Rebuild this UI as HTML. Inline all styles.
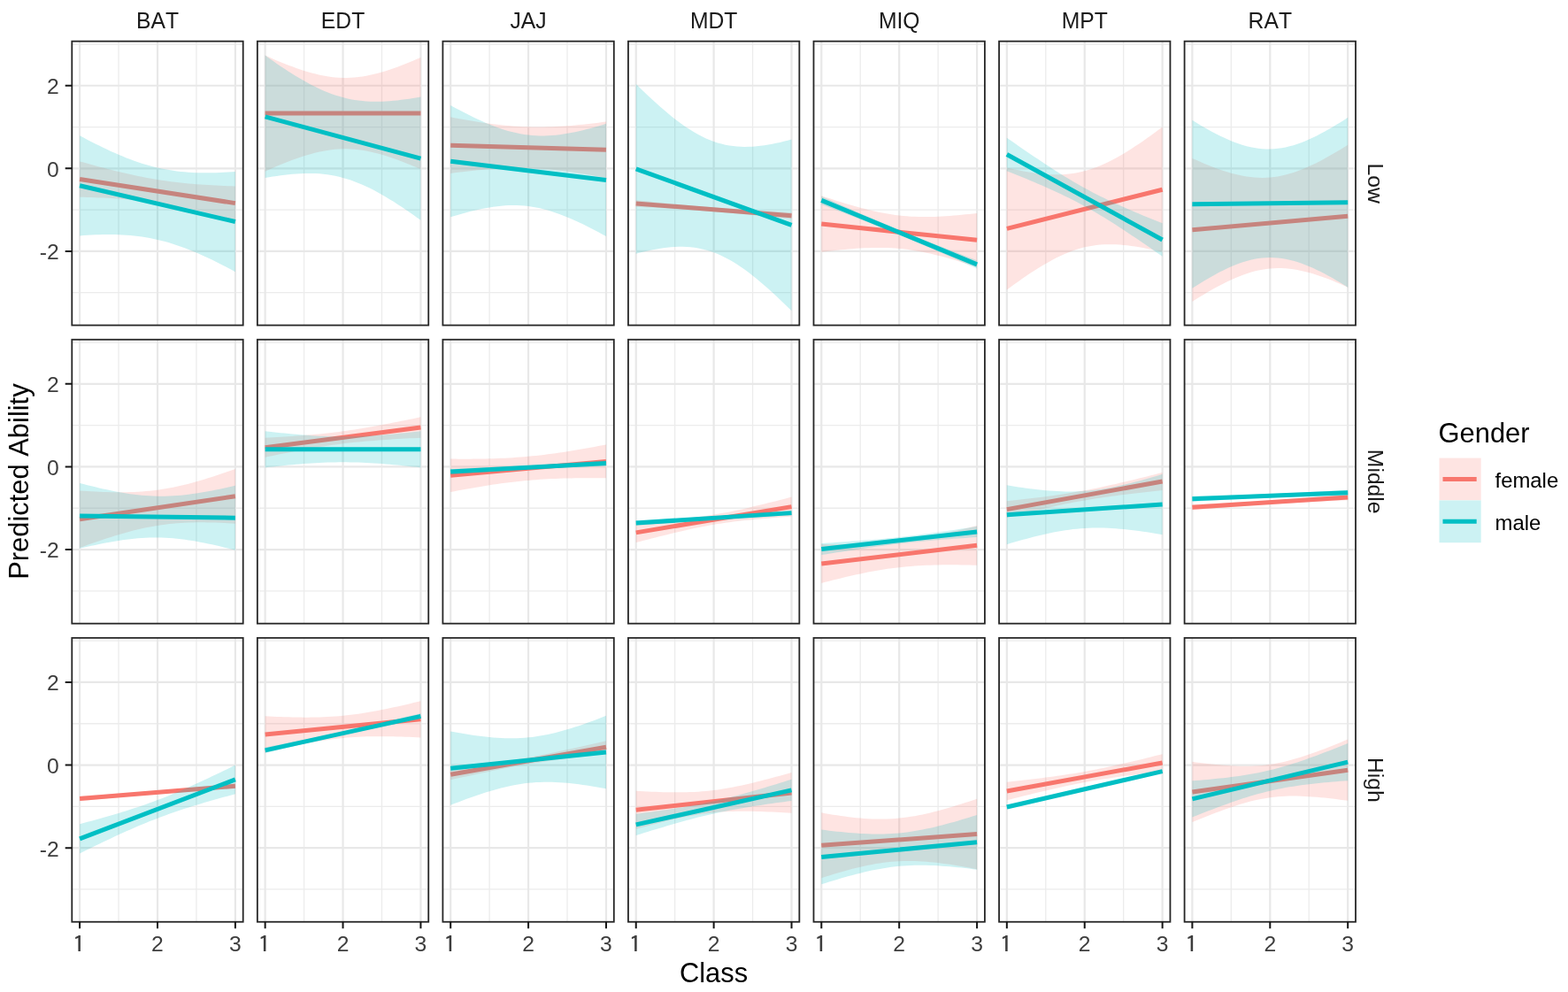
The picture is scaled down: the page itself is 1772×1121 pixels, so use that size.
<!DOCTYPE html>
<html><head><meta charset="utf-8"><title>Predicted Ability by Class</title><style>html,body{margin:0;padding:0;background:#fff;}svg{display:block;}</style></head><body>
<svg width="1772" height="1121" viewBox="0 0 1772 1121">
<rect width="1772" height="1121" fill="#fff"/>
<defs>
<clipPath id="c00"><rect x="81.3" y="46.65" width="193.4" height="320.9"/></clipPath>
<clipPath id="c01"><rect x="290.85" y="46.65" width="193.4" height="320.9"/></clipPath>
<clipPath id="c02"><rect x="500.4" y="46.65" width="193.4" height="320.9"/></clipPath>
<clipPath id="c03"><rect x="709.95" y="46.65" width="193.4" height="320.9"/></clipPath>
<clipPath id="c04"><rect x="919.5" y="46.65" width="193.4" height="320.9"/></clipPath>
<clipPath id="c05"><rect x="1129.05" y="46.65" width="193.4" height="320.9"/></clipPath>
<clipPath id="c06"><rect x="1338.6" y="46.65" width="193.4" height="320.9"/></clipPath>
<clipPath id="c10"><rect x="81.3" y="383.75" width="193.4" height="320.9"/></clipPath>
<clipPath id="c11"><rect x="290.85" y="383.75" width="193.4" height="320.9"/></clipPath>
<clipPath id="c12"><rect x="500.4" y="383.75" width="193.4" height="320.9"/></clipPath>
<clipPath id="c13"><rect x="709.95" y="383.75" width="193.4" height="320.9"/></clipPath>
<clipPath id="c14"><rect x="919.5" y="383.75" width="193.4" height="320.9"/></clipPath>
<clipPath id="c15"><rect x="1129.05" y="383.75" width="193.4" height="320.9"/></clipPath>
<clipPath id="c16"><rect x="1338.6" y="383.75" width="193.4" height="320.9"/></clipPath>
<clipPath id="c20"><rect x="81.3" y="720.85" width="193.4" height="320.9"/></clipPath>
<clipPath id="c21"><rect x="290.85" y="720.85" width="193.4" height="320.9"/></clipPath>
<clipPath id="c22"><rect x="500.4" y="720.85" width="193.4" height="320.9"/></clipPath>
<clipPath id="c23"><rect x="709.95" y="720.85" width="193.4" height="320.9"/></clipPath>
<clipPath id="c24"><rect x="919.5" y="720.85" width="193.4" height="320.9"/></clipPath>
<clipPath id="c25"><rect x="1129.05" y="720.85" width="193.4" height="320.9"/></clipPath>
<clipPath id="c26"><rect x="1338.6" y="720.85" width="193.4" height="320.9"/></clipPath>
</defs>
<g clip-path="url(#c00)">
<line x1="81.3" x2="274.7" y1="330.72" y2="330.72" stroke="#ECECEC" stroke-width="1.3"/>
<line x1="81.3" x2="274.7" y1="237.14" y2="237.14" stroke="#ECECEC" stroke-width="1.3"/>
<line x1="81.3" x2="274.7" y1="143.56" y2="143.56" stroke="#ECECEC" stroke-width="1.3"/>
<line x1="81.3" x2="274.7" y1="49.98" y2="49.98" stroke="#ECECEC" stroke-width="1.3"/>
<line x1="134.04" x2="134.04" y1="46.65" y2="367.55" stroke="#ECECEC" stroke-width="1.3"/>
<line x1="221.94" x2="221.94" y1="46.65" y2="367.55" stroke="#ECECEC" stroke-width="1.3"/>
<line x1="81.3" x2="274.7" y1="283.93" y2="283.93" stroke="#E8E8E8" stroke-width="2.2"/>
<line x1="81.3" x2="274.7" y1="190.35" y2="190.35" stroke="#E8E8E8" stroke-width="2.2"/>
<line x1="81.3" x2="274.7" y1="96.77" y2="96.77" stroke="#E8E8E8" stroke-width="2.2"/>
<line x1="90.09" x2="90.09" y1="46.65" y2="367.55" stroke="#E8E8E8" stroke-width="2.2"/>
<line x1="177.99" x2="177.99" y1="46.65" y2="367.55" stroke="#E8E8E8" stroke-width="2.2"/>
<line x1="265.89" x2="265.89" y1="46.65" y2="367.55" stroke="#E8E8E8" stroke-width="2.2"/>
<path d="M90.09 182.4 L94.48 183.62 L98.88 184.84 L103.27 186.05 L107.67 187.23 L112.06 188.41 L116.46 189.56 L120.86 190.7 L125.25 191.82 L129.64 192.91 L134.04 193.99 L138.44 195.03 L142.83 196.05 L147.22 197.04 L151.62 198 L156.01 198.92 L160.41 199.81 L164.81 200.66 L169.2 201.48 L173.59 202.25 L177.99 202.98 L182.38 203.68 L186.78 204.33 L191.18 204.94 L195.57 205.51 L199.97 206.04 L204.36 206.54 L208.76 206.99 L213.15 207.42 L217.55 207.81 L221.94 208.17 L226.33 208.5 L230.73 208.8 L235.12 209.08 L239.52 209.33 L243.92 209.57 L248.31 209.78 L252.71 209.98 L257.1 210.16 L261.5 210.32 L265.89 210.47 L265.89 248.84 L261.5 247.63 L257.1 246.44 L252.71 245.26 L248.31 244.1 L243.92 242.95 L239.52 241.83 L235.12 240.73 L230.73 239.65 L226.33 238.6 L221.94 237.57 L217.55 236.57 L213.15 235.61 L208.76 234.67 L204.36 233.77 L199.97 232.91 L195.57 232.09 L191.18 231.3 L186.78 230.55 L182.38 229.85 L177.99 229.19 L173.59 228.56 L169.2 227.98 L164.81 227.44 L160.41 226.93 L156.01 226.46 L151.62 226.03 L147.22 225.63 L142.83 225.26 L138.44 224.93 L134.04 224.61 L129.64 224.33 L125.25 224.07 L120.86 223.83 L116.46 223.61 L112.06 223.41 L107.67 223.22 L103.27 223.06 L98.88 222.9 L94.48 222.76 L90.09 222.64Z" fill="#F8766D" fill-opacity="0.2"/>
<line x1="90.09" y1="202.52" x2="265.89" y2="229.65" stroke="#F8766D" stroke-width="5.0"/>
<path d="M90.09 153.2 L94.48 155.57 L98.88 157.89 L103.27 160.18 L107.67 162.43 L112.06 164.62 L116.46 166.77 L120.86 168.86 L125.25 170.9 L129.64 172.87 L134.04 174.78 L138.44 176.62 L142.83 178.38 L147.22 180.07 L151.62 181.68 L156.01 183.2 L160.41 184.64 L164.81 185.98 L169.2 187.24 L173.59 188.4 L177.99 189.46 L182.38 190.43 L186.78 191.31 L191.18 192.09 L195.57 192.78 L199.97 193.38 L204.36 193.89 L208.76 194.32 L213.15 194.67 L217.55 194.94 L221.94 195.13 L226.33 195.26 L230.73 195.32 L235.12 195.32 L239.52 195.27 L243.92 195.15 L248.31 194.99 L252.71 194.78 L257.1 194.53 L261.5 194.24 L265.89 193.91 L265.89 307.14 L261.5 304.77 L257.1 302.44 L252.71 300.15 L248.31 297.91 L243.92 295.71 L239.52 293.57 L235.12 291.47 L230.73 289.44 L226.33 287.47 L221.94 285.56 L217.55 283.72 L213.15 281.95 L208.76 280.27 L204.36 278.66 L199.97 277.14 L195.57 275.7 L191.18 274.35 L186.78 273.1 L182.38 271.94 L177.99 270.88 L173.59 269.91 L169.2 269.03 L164.81 268.25 L160.41 267.56 L156.01 266.96 L151.62 266.45 L147.22 266.02 L142.83 265.67 L138.44 265.4 L134.04 265.2 L129.64 265.08 L125.25 265.01 L120.86 265.01 L116.46 265.07 L112.06 265.18 L107.67 265.34 L103.27 265.55 L98.88 265.81 L94.48 266.1 L90.09 266.43Z" fill="#00BFC4" fill-opacity="0.2"/>
<line x1="90.09" y1="209.81" x2="265.89" y2="250.52" stroke="#00BFC4" stroke-width="5.0"/>
</g>
<rect x="81.3" y="46.65" width="193.4" height="320.9" fill="none" stroke="#262626" stroke-width="1.8"/>
<g clip-path="url(#c01)">
<line x1="290.85" x2="484.25" y1="330.72" y2="330.72" stroke="#ECECEC" stroke-width="1.3"/>
<line x1="290.85" x2="484.25" y1="237.14" y2="237.14" stroke="#ECECEC" stroke-width="1.3"/>
<line x1="290.85" x2="484.25" y1="143.56" y2="143.56" stroke="#ECECEC" stroke-width="1.3"/>
<line x1="290.85" x2="484.25" y1="49.98" y2="49.98" stroke="#ECECEC" stroke-width="1.3"/>
<line x1="343.59" x2="343.59" y1="46.65" y2="367.55" stroke="#ECECEC" stroke-width="1.3"/>
<line x1="431.49" x2="431.49" y1="46.65" y2="367.55" stroke="#ECECEC" stroke-width="1.3"/>
<line x1="290.85" x2="484.25" y1="283.93" y2="283.93" stroke="#E8E8E8" stroke-width="2.2"/>
<line x1="290.85" x2="484.25" y1="190.35" y2="190.35" stroke="#E8E8E8" stroke-width="2.2"/>
<line x1="290.85" x2="484.25" y1="96.77" y2="96.77" stroke="#E8E8E8" stroke-width="2.2"/>
<line x1="299.64" x2="299.64" y1="46.65" y2="367.55" stroke="#E8E8E8" stroke-width="2.2"/>
<line x1="387.54" x2="387.54" y1="46.65" y2="367.55" stroke="#E8E8E8" stroke-width="2.2"/>
<line x1="475.44" x2="475.44" y1="46.65" y2="367.55" stroke="#E8E8E8" stroke-width="2.2"/>
<path d="M299.64 62.61 L304.04 64.58 L308.43 66.5 L312.82 68.38 L317.22 70.21 L321.62 71.99 L326.01 73.71 L330.41 75.37 L334.8 76.96 L339.2 78.47 L343.59 79.9 L347.99 81.24 L352.38 82.48 L356.78 83.61 L361.17 84.63 L365.57 85.52 L369.96 86.28 L374.36 86.91 L378.75 87.38 L383.14 87.71 L387.54 87.88 L391.94 87.9 L396.33 87.75 L400.73 87.46 L405.12 87.01 L409.52 86.42 L413.91 85.68 L418.31 84.81 L422.7 83.82 L427.1 82.71 L431.49 81.49 L435.88 80.17 L440.28 78.76 L444.68 77.26 L449.07 75.69 L453.47 74.04 L457.86 72.33 L462.26 70.56 L466.65 68.74 L471.05 66.87 L475.44 64.95 L475.44 191.29 L471.05 189.37 L466.65 187.5 L462.26 185.68 L457.86 183.91 L453.47 182.2 L449.07 180.55 L444.68 178.98 L440.28 177.48 L435.88 176.07 L431.49 174.75 L427.1 173.53 L422.7 172.42 L418.31 171.43 L413.91 170.56 L409.52 169.82 L405.12 169.23 L400.73 168.78 L396.33 168.48 L391.94 168.34 L387.54 168.36 L383.14 168.53 L378.75 168.86 L374.36 169.33 L369.96 169.95 L365.57 170.72 L361.17 171.61 L356.78 172.62 L352.38 173.76 L347.99 175 L343.59 176.34 L339.2 177.76 L334.8 179.28 L330.41 180.87 L326.01 182.53 L321.62 184.25 L317.22 186.03 L312.82 187.86 L308.43 189.74 L304.04 191.66 L299.64 193.63Z" fill="#F8766D" fill-opacity="0.2"/>
<line x1="299.64" y1="128.12" x2="475.44" y2="128.12" stroke="#F8766D" stroke-width="5.0"/>
<path d="M299.64 62.61 L304.04 65.76 L308.43 68.86 L312.82 71.91 L317.22 74.9 L321.62 77.83 L326.01 80.7 L330.41 83.49 L334.8 86.21 L339.2 88.84 L343.59 91.37 L347.99 93.81 L352.38 96.14 L356.78 98.36 L361.17 100.45 L365.57 102.42 L369.96 104.25 L374.36 105.93 L378.75 107.47 L383.14 108.87 L387.54 110.11 L391.94 111.19 L396.33 112.13 L400.73 112.92 L405.12 113.56 L409.52 114.06 L413.91 114.43 L418.31 114.67 L422.7 114.79 L427.1 114.79 L431.49 114.69 L435.88 114.5 L440.28 114.21 L444.68 113.84 L449.07 113.39 L453.47 112.87 L457.86 112.29 L462.26 111.64 L466.65 110.94 L471.05 110.2 L475.44 109.4 L475.44 248.84 L471.05 245.68 L466.65 242.57 L462.26 239.51 L457.86 236.5 L453.47 233.56 L449.07 230.67 L444.68 227.86 L440.28 225.13 L435.88 222.48 L431.49 219.92 L427.1 217.46 L422.7 215.1 L418.31 212.86 L413.91 210.73 L409.52 208.74 L405.12 206.88 L400.73 205.16 L396.33 203.58 L391.94 202.15 L387.54 200.88 L383.14 199.75 L378.75 198.78 L374.36 197.96 L369.96 197.29 L365.57 196.75 L361.17 196.35 L356.78 196.08 L352.38 195.94 L347.99 195.91 L343.59 195.98 L339.2 196.16 L334.8 196.42 L330.41 196.77 L326.01 197.2 L321.62 197.71 L317.22 198.28 L312.82 198.91 L308.43 199.59 L304.04 200.33 L299.64 201.11Z" fill="#00BFC4" fill-opacity="0.2"/>
<line x1="299.64" y1="131.86" x2="475.44" y2="179.12" stroke="#00BFC4" stroke-width="5.0"/>
</g>
<rect x="290.85" y="46.65" width="193.4" height="320.9" fill="none" stroke="#262626" stroke-width="1.8"/>
<g clip-path="url(#c02)">
<line x1="500.4" x2="693.8" y1="330.72" y2="330.72" stroke="#ECECEC" stroke-width="1.3"/>
<line x1="500.4" x2="693.8" y1="237.14" y2="237.14" stroke="#ECECEC" stroke-width="1.3"/>
<line x1="500.4" x2="693.8" y1="143.56" y2="143.56" stroke="#ECECEC" stroke-width="1.3"/>
<line x1="500.4" x2="693.8" y1="49.98" y2="49.98" stroke="#ECECEC" stroke-width="1.3"/>
<line x1="553.14" x2="553.14" y1="46.65" y2="367.55" stroke="#ECECEC" stroke-width="1.3"/>
<line x1="641.04" x2="641.04" y1="46.65" y2="367.55" stroke="#ECECEC" stroke-width="1.3"/>
<line x1="500.4" x2="693.8" y1="283.93" y2="283.93" stroke="#E8E8E8" stroke-width="2.2"/>
<line x1="500.4" x2="693.8" y1="190.35" y2="190.35" stroke="#E8E8E8" stroke-width="2.2"/>
<line x1="500.4" x2="693.8" y1="96.77" y2="96.77" stroke="#E8E8E8" stroke-width="2.2"/>
<line x1="509.19" x2="509.19" y1="46.65" y2="367.55" stroke="#E8E8E8" stroke-width="2.2"/>
<line x1="597.09" x2="597.09" y1="46.65" y2="367.55" stroke="#E8E8E8" stroke-width="2.2"/>
<line x1="684.99" x2="684.99" y1="46.65" y2="367.55" stroke="#E8E8E8" stroke-width="2.2"/>
<path d="M509.19 132.33 L513.59 133.18 L517.98 134.01 L522.38 134.81 L526.77 135.59 L531.17 136.35 L535.56 137.08 L539.96 137.78 L544.35 138.44 L548.75 139.08 L553.14 139.67 L557.54 140.24 L561.93 140.76 L566.33 141.24 L570.72 141.68 L575.12 142.07 L579.51 142.42 L583.91 142.72 L588.3 142.97 L592.7 143.17 L597.09 143.33 L601.49 143.43 L605.88 143.48 L610.28 143.49 L614.67 143.45 L619.07 143.36 L623.46 143.22 L627.86 143.04 L632.25 142.82 L636.65 142.55 L641.04 142.25 L645.44 141.91 L649.83 141.53 L654.23 141.12 L658.62 140.68 L663.02 140.21 L667.41 139.71 L671.81 139.19 L676.2 138.64 L680.6 138.07 L684.99 137.48 L684.99 201.11 L680.6 200.26 L676.2 199.43 L671.81 198.63 L667.41 197.85 L663.02 197.09 L658.62 196.36 L654.23 195.67 L649.83 195 L645.44 194.37 L641.04 193.77 L636.65 193.21 L632.25 192.68 L627.86 192.2 L623.46 191.77 L619.07 191.37 L614.67 191.02 L610.28 190.72 L605.88 190.47 L601.49 190.27 L597.09 190.12 L592.7 190.01 L588.3 189.96 L583.91 189.95 L579.51 190 L575.12 190.09 L570.72 190.22 L566.33 190.4 L561.93 190.63 L557.54 190.89 L553.14 191.19 L548.75 191.54 L544.35 191.91 L539.96 192.32 L535.56 192.76 L531.17 193.23 L526.77 193.73 L522.38 194.25 L517.98 194.8 L513.59 195.37 L509.19 195.96Z" fill="#F8766D" fill-opacity="0.2"/>
<line x1="509.19" y1="164.15" x2="684.99" y2="169.29" stroke="#F8766D" stroke-width="5.0"/>
<path d="M509.19 119 L513.59 121.4 L517.98 123.75 L522.38 126.07 L526.77 128.33 L531.17 130.53 L535.56 132.68 L539.96 134.76 L544.35 136.77 L548.75 138.69 L553.14 140.53 L557.54 142.28 L561.93 143.92 L566.33 145.46 L570.72 146.88 L575.12 148.17 L579.51 149.33 L583.91 150.36 L588.3 151.24 L592.7 151.98 L597.09 152.57 L601.49 153.01 L605.88 153.3 L610.28 153.44 L614.67 153.45 L619.07 153.32 L623.46 153.06 L627.86 152.67 L632.25 152.17 L636.65 151.57 L641.04 150.86 L645.44 150.06 L649.83 149.18 L654.23 148.22 L658.62 147.19 L663.02 146.09 L667.41 144.94 L671.81 143.73 L676.2 142.47 L680.6 141.16 L684.99 139.82 L684.99 267.09 L680.6 264.68 L676.2 262.31 L671.81 259.98 L667.41 257.71 L663.02 255.49 L658.62 253.33 L654.23 251.23 L649.83 249.21 L645.44 247.26 L641.04 245.4 L636.65 243.63 L632.25 241.95 L627.86 240.39 L623.46 238.94 L619.07 237.62 L614.67 236.42 L610.28 235.36 L605.88 234.44 L601.49 233.67 L597.09 233.05 L592.7 232.57 L588.3 232.24 L583.91 232.06 L579.51 232.02 L575.12 232.12 L570.72 232.35 L566.33 232.7 L561.93 233.17 L557.54 233.75 L553.14 234.44 L548.75 235.21 L544.35 236.07 L539.96 237.02 L535.56 238.03 L531.17 239.11 L526.77 240.25 L522.38 241.45 L517.98 242.7 L513.59 243.99 L509.19 245.33Z" fill="#00BFC4" fill-opacity="0.2"/>
<line x1="509.19" y1="182.16" x2="684.99" y2="203.45" stroke="#00BFC4" stroke-width="5.0"/>
</g>
<rect x="500.4" y="46.65" width="193.4" height="320.9" fill="none" stroke="#262626" stroke-width="1.8"/>
<g clip-path="url(#c03)">
<line x1="709.95" x2="903.35" y1="330.72" y2="330.72" stroke="#ECECEC" stroke-width="1.3"/>
<line x1="709.95" x2="903.35" y1="237.14" y2="237.14" stroke="#ECECEC" stroke-width="1.3"/>
<line x1="709.95" x2="903.35" y1="143.56" y2="143.56" stroke="#ECECEC" stroke-width="1.3"/>
<line x1="709.95" x2="903.35" y1="49.98" y2="49.98" stroke="#ECECEC" stroke-width="1.3"/>
<line x1="762.69" x2="762.69" y1="46.65" y2="367.55" stroke="#ECECEC" stroke-width="1.3"/>
<line x1="850.59" x2="850.59" y1="46.65" y2="367.55" stroke="#ECECEC" stroke-width="1.3"/>
<line x1="709.95" x2="903.35" y1="283.93" y2="283.93" stroke="#E8E8E8" stroke-width="2.2"/>
<line x1="709.95" x2="903.35" y1="190.35" y2="190.35" stroke="#E8E8E8" stroke-width="2.2"/>
<line x1="709.95" x2="903.35" y1="96.77" y2="96.77" stroke="#E8E8E8" stroke-width="2.2"/>
<line x1="718.74" x2="718.74" y1="46.65" y2="367.55" stroke="#E8E8E8" stroke-width="2.2"/>
<line x1="806.64" x2="806.64" y1="46.65" y2="367.55" stroke="#E8E8E8" stroke-width="2.2"/>
<line x1="894.54" x2="894.54" y1="46.65" y2="367.55" stroke="#E8E8E8" stroke-width="2.2"/>
<path d="M718.74 226.19 L723.13 226.65 L727.53 227.1 L731.93 227.55 L736.32 228 L740.72 228.45 L745.11 228.89 L749.51 229.33 L753.9 229.76 L758.3 230.19 L762.69 230.62 L767.09 231.03 L771.48 231.45 L775.88 231.85 L780.27 232.25 L784.67 232.64 L789.06 233.03 L793.46 233.4 L797.85 233.77 L802.25 234.12 L806.64 234.47 L811.04 234.81 L815.43 235.14 L819.83 235.46 L824.22 235.78 L828.62 236.08 L833.01 236.38 L837.41 236.67 L841.8 236.95 L846.2 237.22 L850.59 237.49 L854.99 237.76 L859.38 238.02 L863.78 238.27 L868.17 238.52 L872.57 238.77 L876.96 239.01 L881.36 239.25 L885.75 239.48 L890.15 239.72 L894.54 239.95 L894.54 247.43 L890.15 246.98 L885.75 246.52 L881.36 246.07 L876.96 245.62 L872.57 245.18 L868.17 244.73 L863.78 244.3 L859.38 243.86 L854.99 243.43 L850.59 243.01 L846.2 242.59 L841.8 242.18 L837.41 241.77 L833.01 241.37 L828.62 240.98 L824.22 240.6 L819.83 240.22 L815.43 239.86 L811.04 239.5 L806.64 239.15 L802.25 238.81 L797.85 238.48 L793.46 238.16 L789.06 237.85 L784.67 237.54 L780.27 237.25 L775.88 236.96 L771.48 236.68 L767.09 236.4 L762.69 236.13 L758.3 235.87 L753.9 235.61 L749.51 235.36 L745.11 235.11 L740.72 234.86 L736.32 234.62 L731.93 234.38 L727.53 234.14 L723.13 233.91 L718.74 233.68Z" fill="#F8766D" fill-opacity="0.2"/>
<line x1="718.74" y1="229.93" x2="894.54" y2="243.69" stroke="#F8766D" stroke-width="5.0"/>
<path d="M718.74 94.9 L723.13 99.23 L727.53 103.49 L731.93 107.69 L736.32 111.8 L740.72 115.84 L745.11 119.78 L749.51 123.62 L753.9 127.34 L758.3 130.95 L762.69 134.44 L767.09 137.78 L771.48 140.97 L775.88 144 L780.27 146.86 L784.67 149.54 L789.06 152.03 L793.46 154.32 L797.85 156.4 L802.25 158.27 L806.64 159.94 L811.04 161.38 L815.43 162.62 L819.83 163.65 L824.22 164.47 L828.62 165.1 L833.01 165.54 L837.41 165.81 L841.8 165.9 L846.2 165.84 L850.59 165.63 L854.99 165.29 L859.38 164.82 L863.78 164.23 L868.17 163.54 L872.57 162.75 L876.96 161.87 L881.36 160.91 L885.75 159.87 L890.15 158.77 L894.54 157.6 L894.54 351.31 L890.15 346.96 L885.75 342.67 L881.36 338.45 L876.96 334.31 L872.57 330.24 L868.17 326.27 L863.78 322.4 L859.38 318.63 L854.99 314.98 L850.59 311.46 L846.2 308.07 L841.8 304.82 L837.41 301.74 L833.01 298.82 L828.62 296.08 L824.22 293.52 L819.83 291.17 L815.43 289.01 L811.04 287.07 L806.64 285.33 L802.25 283.81 L797.85 282.51 L793.46 281.41 L789.06 280.52 L784.67 279.82 L780.27 279.32 L775.88 279 L771.48 278.85 L767.09 278.86 L762.69 279.02 L758.3 279.32 L753.9 279.74 L749.51 280.29 L745.11 280.95 L740.72 281.71 L736.32 282.56 L731.93 283.49 L727.53 284.51 L723.13 285.59 L718.74 286.74Z" fill="#00BFC4" fill-opacity="0.2"/>
<line x1="718.74" y1="190.82" x2="894.54" y2="254.45" stroke="#00BFC4" stroke-width="5.0"/>
</g>
<rect x="709.95" y="46.65" width="193.4" height="320.9" fill="none" stroke="#262626" stroke-width="1.8"/>
<g clip-path="url(#c04)">
<line x1="919.5" x2="1112.9" y1="330.72" y2="330.72" stroke="#ECECEC" stroke-width="1.3"/>
<line x1="919.5" x2="1112.9" y1="237.14" y2="237.14" stroke="#ECECEC" stroke-width="1.3"/>
<line x1="919.5" x2="1112.9" y1="143.56" y2="143.56" stroke="#ECECEC" stroke-width="1.3"/>
<line x1="919.5" x2="1112.9" y1="49.98" y2="49.98" stroke="#ECECEC" stroke-width="1.3"/>
<line x1="972.24" x2="972.24" y1="46.65" y2="367.55" stroke="#ECECEC" stroke-width="1.3"/>
<line x1="1060.14" x2="1060.14" y1="46.65" y2="367.55" stroke="#ECECEC" stroke-width="1.3"/>
<line x1="919.5" x2="1112.9" y1="283.93" y2="283.93" stroke="#E8E8E8" stroke-width="2.2"/>
<line x1="919.5" x2="1112.9" y1="190.35" y2="190.35" stroke="#E8E8E8" stroke-width="2.2"/>
<line x1="919.5" x2="1112.9" y1="96.77" y2="96.77" stroke="#E8E8E8" stroke-width="2.2"/>
<line x1="928.29" x2="928.29" y1="46.65" y2="367.55" stroke="#E8E8E8" stroke-width="2.2"/>
<line x1="1016.19" x2="1016.19" y1="46.65" y2="367.55" stroke="#E8E8E8" stroke-width="2.2"/>
<line x1="1104.09" x2="1104.09" y1="46.65" y2="367.55" stroke="#E8E8E8" stroke-width="2.2"/>
<path d="M928.29 221.23 L932.68 222.69 L937.08 224.12 L941.48 225.53 L945.87 226.93 L950.26 228.29 L954.66 229.64 L959.06 230.94 L963.45 232.22 L967.85 233.46 L972.24 234.66 L976.63 235.81 L981.03 236.92 L985.42 237.97 L989.82 238.96 L994.22 239.9 L998.61 240.76 L1003 241.55 L1007.4 242.26 L1011.79 242.9 L1016.19 243.46 L1020.59 243.93 L1024.98 244.32 L1029.38 244.63 L1033.77 244.86 L1038.16 245.01 L1042.56 245.09 L1046.95 245.1 L1051.35 245.04 L1055.75 244.93 L1060.14 244.76 L1064.54 244.53 L1068.93 244.27 L1073.33 243.95 L1077.72 243.61 L1082.12 243.22 L1086.51 242.81 L1090.9 242.36 L1095.3 241.89 L1099.69 241.4 L1104.09 240.88 L1104.09 301.71 L1099.69 300.28 L1095.3 298.88 L1090.9 297.5 L1086.51 296.14 L1082.12 294.81 L1077.72 293.51 L1073.33 292.25 L1068.93 291.03 L1064.54 289.85 L1060.14 288.71 L1055.75 287.63 L1051.35 286.6 L1046.95 285.63 L1042.56 284.73 L1038.16 283.9 L1033.77 283.14 L1029.38 282.45 L1024.98 281.85 L1020.59 281.33 L1016.19 280.89 L1011.79 280.53 L1007.4 280.26 L1003 280.06 L998.61 279.94 L994.22 279.89 L989.82 279.91 L985.42 279.99 L981.03 280.13 L976.63 280.32 L972.24 280.56 L967.85 280.85 L963.45 281.17 L959.06 281.54 L954.66 281.94 L950.26 282.36 L945.87 282.82 L941.48 283.3 L937.08 283.8 L932.68 284.32 L928.29 284.87Z" fill="#F8766D" fill-opacity="0.2"/>
<line x1="928.29" y1="253.05" x2="1104.09" y2="271.3" stroke="#F8766D" stroke-width="5.0"/>
<path d="M928.29 221.7 L932.68 223.66 L937.08 225.62 L941.48 227.57 L945.87 229.53 L950.26 231.47 L954.66 233.42 L959.06 235.36 L963.45 237.29 L967.85 239.21 L972.24 241.14 L976.63 243.05 L981.03 244.95 L985.42 246.85 L989.82 248.74 L994.22 250.62 L998.61 252.48 L1003 254.34 L1007.4 256.18 L1011.79 258.01 L1016.19 259.83 L1020.59 261.64 L1024.98 263.43 L1029.38 265.22 L1033.77 266.99 L1038.16 268.75 L1042.56 270.5 L1046.95 272.23 L1051.35 273.96 L1055.75 275.68 L1060.14 277.4 L1064.54 279.1 L1068.93 280.8 L1073.33 282.5 L1077.72 284.18 L1082.12 285.87 L1086.51 287.55 L1090.9 289.22 L1095.3 290.89 L1099.69 292.56 L1104.09 294.22 L1104.09 303.58 L1099.69 301.62 L1095.3 299.66 L1090.9 297.71 L1086.51 295.76 L1082.12 293.81 L1077.72 291.86 L1073.33 289.93 L1068.93 287.99 L1064.54 286.07 L1060.14 284.15 L1055.75 282.23 L1051.35 280.33 L1046.95 278.43 L1042.56 276.54 L1038.16 274.67 L1033.77 272.8 L1029.38 270.94 L1024.98 269.1 L1020.59 267.27 L1016.19 265.45 L1011.79 263.64 L1007.4 261.85 L1003 260.06 L998.61 258.29 L994.22 256.53 L989.82 254.79 L985.42 253.05 L981.03 251.32 L976.63 249.6 L972.24 247.88 L967.85 246.18 L963.45 244.48 L959.06 242.79 L954.66 241.1 L950.26 239.41 L945.87 237.74 L941.48 236.06 L937.08 234.39 L932.68 232.72 L928.29 231.06Z" fill="#00BFC4" fill-opacity="0.2"/>
<line x1="928.29" y1="226.38" x2="1104.09" y2="298.9" stroke="#00BFC4" stroke-width="5.0"/>
</g>
<rect x="919.5" y="46.65" width="193.4" height="320.9" fill="none" stroke="#262626" stroke-width="1.8"/>
<g clip-path="url(#c05)">
<line x1="1129.05" x2="1322.45" y1="330.72" y2="330.72" stroke="#ECECEC" stroke-width="1.3"/>
<line x1="1129.05" x2="1322.45" y1="237.14" y2="237.14" stroke="#ECECEC" stroke-width="1.3"/>
<line x1="1129.05" x2="1322.45" y1="143.56" y2="143.56" stroke="#ECECEC" stroke-width="1.3"/>
<line x1="1129.05" x2="1322.45" y1="49.98" y2="49.98" stroke="#ECECEC" stroke-width="1.3"/>
<line x1="1181.79" x2="1181.79" y1="46.65" y2="367.55" stroke="#ECECEC" stroke-width="1.3"/>
<line x1="1269.69" x2="1269.69" y1="46.65" y2="367.55" stroke="#ECECEC" stroke-width="1.3"/>
<line x1="1129.05" x2="1322.45" y1="283.93" y2="283.93" stroke="#E8E8E8" stroke-width="2.2"/>
<line x1="1129.05" x2="1322.45" y1="190.35" y2="190.35" stroke="#E8E8E8" stroke-width="2.2"/>
<line x1="1129.05" x2="1322.45" y1="96.77" y2="96.77" stroke="#E8E8E8" stroke-width="2.2"/>
<line x1="1137.84" x2="1137.84" y1="46.65" y2="367.55" stroke="#E8E8E8" stroke-width="2.2"/>
<line x1="1225.74" x2="1225.74" y1="46.65" y2="367.55" stroke="#E8E8E8" stroke-width="2.2"/>
<line x1="1313.64" x2="1313.64" y1="46.65" y2="367.55" stroke="#E8E8E8" stroke-width="2.2"/>
<path d="M1137.84 189.41 L1142.23 190.44 L1146.63 191.41 L1151.02 192.34 L1155.42 193.2 L1159.82 194.01 L1164.21 194.74 L1168.61 195.41 L1173 195.98 L1177.39 196.47 L1181.79 196.86 L1186.18 197.14 L1190.58 197.3 L1194.97 197.33 L1199.37 197.23 L1203.76 196.98 L1208.16 196.57 L1212.56 196 L1216.95 195.27 L1221.35 194.36 L1225.74 193.27 L1230.13 192.01 L1234.53 190.58 L1238.92 188.98 L1243.32 187.21 L1247.71 185.29 L1252.11 183.22 L1256.5 181.01 L1260.9 178.67 L1265.3 176.2 L1269.69 173.63 L1274.09 170.96 L1278.48 168.19 L1282.88 165.34 L1287.27 162.41 L1291.66 159.41 L1296.06 156.34 L1300.45 153.22 L1304.85 150.05 L1309.24 146.83 L1313.64 143.56 L1313.64 284.87 L1309.24 283.81 L1304.85 282.8 L1300.45 281.84 L1296.06 280.93 L1291.66 280.07 L1287.27 279.28 L1282.88 278.57 L1278.48 277.92 L1274.09 277.37 L1269.69 276.9 L1265.3 276.54 L1260.9 276.29 L1256.5 276.16 L1252.11 276.16 L1247.71 276.3 L1243.32 276.59 L1238.92 277.03 L1234.53 277.64 L1230.13 278.42 L1225.74 279.37 L1221.35 280.49 L1216.95 281.8 L1212.56 283.27 L1208.16 284.91 L1203.76 286.72 L1199.37 288.68 L1194.97 290.79 L1190.58 293.03 L1186.18 295.4 L1181.79 297.89 L1177.39 300.49 L1173 303.19 L1168.61 305.98 L1164.21 308.85 L1159.82 311.8 L1155.42 314.81 L1151.02 317.89 L1146.63 321.03 L1142.23 324.21 L1137.84 327.44Z" fill="#F8766D" fill-opacity="0.2"/>
<line x1="1137.84" y1="258.43" x2="1313.64" y2="214.21" stroke="#F8766D" stroke-width="5.0"/>
<path d="M1137.84 155.73 L1142.23 158.79 L1146.63 161.84 L1151.02 164.88 L1155.42 167.91 L1159.82 170.92 L1164.21 173.91 L1168.61 176.89 L1173 179.84 L1177.39 182.77 L1181.79 185.67 L1186.18 188.54 L1190.58 191.38 L1194.97 194.19 L1199.37 196.95 L1203.76 199.66 L1208.16 202.33 L1212.56 204.95 L1216.95 207.51 L1221.35 210.01 L1225.74 212.46 L1230.13 214.84 L1234.53 217.17 L1238.92 219.44 L1243.32 221.66 L1247.71 223.82 L1252.11 225.93 L1256.5 228 L1260.9 230.03 L1265.3 232.02 L1269.69 233.98 L1274.09 235.91 L1278.48 237.81 L1282.88 239.69 L1287.27 241.55 L1291.66 243.38 L1296.06 245.2 L1300.45 247.01 L1304.85 248.8 L1309.24 250.58 L1313.64 252.35 L1313.64 289.78 L1309.24 286.72 L1304.85 283.66 L1300.45 280.62 L1296.06 277.6 L1291.66 274.59 L1287.27 271.59 L1282.88 268.62 L1278.48 265.66 L1274.09 262.73 L1269.69 259.83 L1265.3 256.96 L1260.9 254.12 L1256.5 251.32 L1252.11 248.56 L1247.71 245.84 L1243.32 243.17 L1238.92 240.56 L1234.53 237.99 L1230.13 235.49 L1225.74 233.05 L1221.35 230.66 L1216.95 228.33 L1212.56 226.06 L1208.16 223.85 L1203.76 221.68 L1199.37 219.57 L1194.97 217.5 L1190.58 215.47 L1186.18 213.48 L1181.79 211.52 L1177.39 209.59 L1173 207.69 L1168.61 205.81 L1164.21 203.96 L1159.82 202.12 L1155.42 200.3 L1151.02 198.5 L1146.63 196.7 L1142.23 194.93 L1137.84 193.16Z" fill="#00BFC4" fill-opacity="0.2"/>
<line x1="1137.84" y1="174.44" x2="1313.64" y2="271.06" stroke="#00BFC4" stroke-width="5.0"/>
</g>
<rect x="1129.05" y="46.65" width="193.4" height="320.9" fill="none" stroke="#262626" stroke-width="1.8"/>
<g clip-path="url(#c06)">
<line x1="1338.6" x2="1532" y1="330.72" y2="330.72" stroke="#ECECEC" stroke-width="1.3"/>
<line x1="1338.6" x2="1532" y1="237.14" y2="237.14" stroke="#ECECEC" stroke-width="1.3"/>
<line x1="1338.6" x2="1532" y1="143.56" y2="143.56" stroke="#ECECEC" stroke-width="1.3"/>
<line x1="1338.6" x2="1532" y1="49.98" y2="49.98" stroke="#ECECEC" stroke-width="1.3"/>
<line x1="1391.34" x2="1391.34" y1="46.65" y2="367.55" stroke="#ECECEC" stroke-width="1.3"/>
<line x1="1479.24" x2="1479.24" y1="46.65" y2="367.55" stroke="#ECECEC" stroke-width="1.3"/>
<line x1="1338.6" x2="1532" y1="283.93" y2="283.93" stroke="#E8E8E8" stroke-width="2.2"/>
<line x1="1338.6" x2="1532" y1="190.35" y2="190.35" stroke="#E8E8E8" stroke-width="2.2"/>
<line x1="1338.6" x2="1532" y1="96.77" y2="96.77" stroke="#E8E8E8" stroke-width="2.2"/>
<line x1="1347.39" x2="1347.39" y1="46.65" y2="367.55" stroke="#E8E8E8" stroke-width="2.2"/>
<line x1="1435.29" x2="1435.29" y1="46.65" y2="367.55" stroke="#E8E8E8" stroke-width="2.2"/>
<line x1="1523.19" x2="1523.19" y1="46.65" y2="367.55" stroke="#E8E8E8" stroke-width="2.2"/>
<path d="M1347.39 178.89 L1351.79 180.87 L1356.18 182.8 L1360.58 184.67 L1364.97 186.48 L1369.37 188.22 L1373.76 189.88 L1378.16 191.46 L1382.55 192.95 L1386.95 194.35 L1391.34 195.63 L1395.74 196.8 L1400.13 197.84 L1404.53 198.74 L1408.92 199.5 L1413.32 200.1 L1417.71 200.54 L1422.11 200.81 L1426.5 200.9 L1430.9 200.81 L1435.29 200.53 L1439.69 200.06 L1444.08 199.41 L1448.48 198.57 L1452.87 197.55 L1457.27 196.36 L1461.66 195 L1466.06 193.49 L1470.45 191.83 L1474.85 190.03 L1479.24 188.11 L1483.64 186.06 L1488.03 183.91 L1492.43 181.65 L1496.82 179.3 L1501.22 176.87 L1505.61 174.36 L1510.01 171.78 L1514.4 169.14 L1518.8 166.44 L1523.19 163.68 L1523.19 324.64 L1518.8 322.66 L1514.4 320.75 L1510.01 318.89 L1505.61 317.09 L1501.22 315.36 L1496.82 313.72 L1492.43 312.15 L1488.03 310.68 L1483.64 309.31 L1479.24 308.05 L1474.85 306.91 L1470.45 305.89 L1466.06 305.01 L1461.66 304.29 L1457.27 303.71 L1452.87 303.31 L1448.48 303.07 L1444.08 303.02 L1439.69 303.15 L1435.29 303.46 L1430.9 303.97 L1426.5 304.66 L1422.11 305.53 L1417.71 306.58 L1413.32 307.81 L1408.92 309.19 L1404.53 310.74 L1400.13 312.43 L1395.74 314.25 L1391.34 316.2 L1386.95 318.27 L1382.55 320.44 L1378.16 322.72 L1373.76 325.08 L1369.37 327.53 L1364.97 330.05 L1360.58 332.64 L1356.18 335.3 L1351.79 338.01 L1347.39 340.78Z" fill="#F8766D" fill-opacity="0.2"/>
<line x1="1347.39" y1="259.83" x2="1523.19" y2="244.16" stroke="#F8766D" stroke-width="5.0"/>
<path d="M1347.39 135.79 L1351.79 138.51 L1356.18 141.16 L1360.58 143.73 L1364.97 146.24 L1369.37 148.65 L1373.76 150.98 L1378.16 153.21 L1382.55 155.33 L1386.95 157.32 L1391.34 159.19 L1395.74 160.92 L1400.13 162.5 L1404.53 163.91 L1408.92 165.15 L1413.32 166.21 L1417.71 167.08 L1422.11 167.74 L1426.5 168.19 L1430.9 168.43 L1435.29 168.45 L1439.69 168.26 L1444.08 167.84 L1448.48 167.22 L1452.87 166.38 L1457.27 165.35 L1461.66 164.13 L1466.06 162.72 L1470.45 161.15 L1474.85 159.42 L1479.24 157.54 L1483.64 155.52 L1488.03 153.38 L1492.43 151.12 L1496.82 148.76 L1501.22 146.3 L1505.61 143.75 L1510.01 141.11 L1514.4 138.41 L1518.8 135.63 L1523.19 132.8 L1523.19 324.64 L1518.8 321.9 L1514.4 319.23 L1510.01 316.63 L1505.61 314.1 L1501.22 311.65 L1496.82 309.3 L1492.43 307.03 L1488.03 304.88 L1483.64 302.84 L1479.24 300.93 L1474.85 299.15 L1470.45 297.52 L1466.06 296.05 L1461.66 294.75 L1457.27 293.63 L1452.87 292.7 L1448.48 291.97 L1444.08 291.45 L1439.69 291.14 L1435.29 291.04 L1430.9 291.17 L1426.5 291.51 L1422.11 292.06 L1417.71 292.83 L1413.32 293.8 L1408.92 294.96 L1404.53 296.3 L1400.13 297.82 L1395.74 299.5 L1391.34 301.33 L1386.95 303.3 L1382.55 305.4 L1378.16 307.62 L1373.76 309.95 L1369.37 312.38 L1364.97 314.9 L1360.58 317.51 L1356.18 320.19 L1351.79 322.94 L1347.39 325.76Z" fill="#00BFC4" fill-opacity="0.2"/>
<line x1="1347.39" y1="230.78" x2="1523.19" y2="228.72" stroke="#00BFC4" stroke-width="5.0"/>
</g>
<rect x="1338.6" y="46.65" width="193.4" height="320.9" fill="none" stroke="#262626" stroke-width="1.8"/>
<g clip-path="url(#c10)">
<line x1="81.3" x2="274.7" y1="667.82" y2="667.82" stroke="#ECECEC" stroke-width="1.3"/>
<line x1="81.3" x2="274.7" y1="574.24" y2="574.24" stroke="#ECECEC" stroke-width="1.3"/>
<line x1="81.3" x2="274.7" y1="480.66" y2="480.66" stroke="#ECECEC" stroke-width="1.3"/>
<line x1="81.3" x2="274.7" y1="387.08" y2="387.08" stroke="#ECECEC" stroke-width="1.3"/>
<line x1="134.04" x2="134.04" y1="383.75" y2="704.65" stroke="#ECECEC" stroke-width="1.3"/>
<line x1="221.94" x2="221.94" y1="383.75" y2="704.65" stroke="#ECECEC" stroke-width="1.3"/>
<line x1="81.3" x2="274.7" y1="621.03" y2="621.03" stroke="#E8E8E8" stroke-width="2.2"/>
<line x1="81.3" x2="274.7" y1="527.45" y2="527.45" stroke="#E8E8E8" stroke-width="2.2"/>
<line x1="81.3" x2="274.7" y1="433.87" y2="433.87" stroke="#E8E8E8" stroke-width="2.2"/>
<line x1="90.09" x2="90.09" y1="383.75" y2="704.65" stroke="#E8E8E8" stroke-width="2.2"/>
<line x1="177.99" x2="177.99" y1="383.75" y2="704.65" stroke="#E8E8E8" stroke-width="2.2"/>
<line x1="265.89" x2="265.89" y1="383.75" y2="704.65" stroke="#E8E8E8" stroke-width="2.2"/>
<path d="M90.09 554.45 L94.48 554.74 L98.88 555.02 L103.27 555.27 L107.67 555.51 L112.06 555.71 L116.46 555.89 L120.86 556.04 L125.25 556.15 L129.64 556.23 L134.04 556.27 L138.44 556.26 L142.83 556.21 L147.22 556.11 L151.62 555.95 L156.01 555.73 L160.41 555.45 L164.81 555.11 L169.2 554.69 L173.59 554.21 L177.99 553.65 L182.38 553.02 L186.78 552.32 L191.18 551.54 L195.57 550.69 L199.97 549.78 L204.36 548.79 L208.76 547.74 L213.15 546.63 L217.55 545.47 L221.94 544.25 L226.33 542.98 L230.73 541.67 L235.12 540.32 L239.52 538.92 L243.92 537.5 L248.31 536.04 L252.71 534.55 L257.1 533.03 L261.5 531.49 L265.89 529.93 L265.89 591.69 L261.5 591.43 L257.1 591.18 L252.71 590.96 L248.31 590.77 L243.92 590.61 L239.52 590.48 L235.12 590.38 L230.73 590.32 L226.33 590.3 L221.94 590.33 L217.55 590.41 L213.15 590.54 L208.76 590.73 L204.36 590.98 L199.97 591.29 L195.57 591.67 L191.18 592.11 L186.78 592.63 L182.38 593.23 L177.99 593.89 L173.59 594.63 L169.2 595.44 L164.81 596.33 L160.41 597.28 L156.01 598.3 L151.62 599.37 L147.22 600.51 L142.83 601.7 L138.44 602.95 L134.04 604.24 L129.64 605.57 L125.25 606.94 L120.86 608.35 L116.46 609.8 L112.06 611.27 L107.67 612.77 L103.27 614.3 L98.88 615.85 L94.48 617.43 L90.09 619.02Z" fill="#F8766D" fill-opacity="0.2"/>
<line x1="90.09" y1="586.73" x2="265.89" y2="560.81" stroke="#F8766D" stroke-width="5.0"/>
<path d="M90.09 545.93 L94.48 547.08 L98.88 548.2 L103.27 549.29 L107.67 550.35 L112.06 551.39 L116.46 552.39 L120.86 553.35 L125.25 554.27 L129.64 555.15 L134.04 555.98 L138.44 556.75 L142.83 557.47 L147.22 558.13 L151.62 558.72 L156.01 559.24 L160.41 559.69 L164.81 560.06 L169.2 560.35 L173.59 560.55 L177.99 560.67 L182.38 560.7 L186.78 560.65 L191.18 560.52 L195.57 560.3 L199.97 560 L204.36 559.63 L208.76 559.19 L213.15 558.67 L217.55 558.1 L221.94 557.46 L226.33 556.77 L230.73 556.03 L235.12 555.25 L239.52 554.42 L243.92 553.55 L248.31 552.65 L252.71 551.71 L257.1 550.75 L261.5 549.76 L265.89 548.74 L265.89 621.73 L261.5 620.6 L257.1 619.49 L252.71 618.41 L248.31 617.36 L243.92 616.34 L239.52 615.35 L235.12 614.41 L230.73 613.5 L226.33 612.65 L221.94 611.84 L217.55 611.09 L213.15 610.39 L208.76 609.76 L204.36 609.2 L199.97 608.71 L195.57 608.3 L191.18 607.96 L186.78 607.71 L182.38 607.54 L177.99 607.46 L173.59 607.46 L169.2 607.55 L164.81 607.72 L160.41 607.97 L156.01 608.3 L151.62 608.71 L147.22 609.18 L142.83 609.72 L138.44 610.32 L134.04 610.98 L129.64 611.7 L125.25 612.46 L120.86 613.26 L116.46 614.11 L112.06 614.99 L107.67 615.91 L103.27 616.85 L98.88 617.83 L94.48 618.83 L90.09 619.86Z" fill="#00BFC4" fill-opacity="0.2"/>
<line x1="90.09" y1="582.9" x2="265.89" y2="585.24" stroke="#00BFC4" stroke-width="5.0"/>
</g>
<rect x="81.3" y="383.75" width="193.4" height="320.9" fill="none" stroke="#262626" stroke-width="1.8"/>
<g clip-path="url(#c11)">
<line x1="290.85" x2="484.25" y1="667.82" y2="667.82" stroke="#ECECEC" stroke-width="1.3"/>
<line x1="290.85" x2="484.25" y1="574.24" y2="574.24" stroke="#ECECEC" stroke-width="1.3"/>
<line x1="290.85" x2="484.25" y1="480.66" y2="480.66" stroke="#ECECEC" stroke-width="1.3"/>
<line x1="290.85" x2="484.25" y1="387.08" y2="387.08" stroke="#ECECEC" stroke-width="1.3"/>
<line x1="343.59" x2="343.59" y1="383.75" y2="704.65" stroke="#ECECEC" stroke-width="1.3"/>
<line x1="431.49" x2="431.49" y1="383.75" y2="704.65" stroke="#ECECEC" stroke-width="1.3"/>
<line x1="290.85" x2="484.25" y1="621.03" y2="621.03" stroke="#E8E8E8" stroke-width="2.2"/>
<line x1="290.85" x2="484.25" y1="527.45" y2="527.45" stroke="#E8E8E8" stroke-width="2.2"/>
<line x1="290.85" x2="484.25" y1="433.87" y2="433.87" stroke="#E8E8E8" stroke-width="2.2"/>
<line x1="299.64" x2="299.64" y1="383.75" y2="704.65" stroke="#E8E8E8" stroke-width="2.2"/>
<line x1="387.54" x2="387.54" y1="383.75" y2="704.65" stroke="#E8E8E8" stroke-width="2.2"/>
<line x1="475.44" x2="475.44" y1="383.75" y2="704.65" stroke="#E8E8E8" stroke-width="2.2"/>
<path d="M299.64 494.7 L304.04 494.47 L308.43 494.23 L312.82 493.99 L317.22 493.74 L321.62 493.47 L326.01 493.2 L330.41 492.91 L334.8 492.6 L339.2 492.28 L343.59 491.95 L347.99 491.59 L352.38 491.22 L356.78 490.82 L361.17 490.4 L365.57 489.95 L369.96 489.48 L374.36 488.99 L378.75 488.46 L383.14 487.91 L387.54 487.33 L391.94 486.72 L396.33 486.08 L400.73 485.42 L405.12 484.73 L409.52 484.01 L413.91 483.27 L418.31 482.51 L422.7 481.73 L427.1 480.94 L431.49 480.12 L435.88 479.29 L440.28 478.44 L444.68 477.59 L449.07 476.72 L453.47 475.84 L457.86 474.95 L462.26 474.05 L466.65 473.14 L471.05 472.22 L475.44 471.3 L475.44 494.7 L471.05 494.91 L466.65 495.13 L462.26 495.36 L457.86 495.59 L453.47 495.84 L449.07 496.09 L444.68 496.36 L440.28 496.63 L435.88 496.92 L431.49 497.23 L427.1 497.54 L422.7 497.88 L418.31 498.24 L413.91 498.61 L409.52 499.01 L405.12 499.43 L400.73 499.87 L396.33 500.34 L391.94 500.84 L387.54 501.36 L383.14 501.92 L378.75 502.5 L374.36 503.11 L369.96 503.75 L365.57 504.41 L361.17 505.1 L356.78 505.82 L352.38 506.55 L347.99 507.31 L343.59 508.09 L339.2 508.89 L334.8 509.71 L330.41 510.54 L326.01 511.38 L321.62 512.24 L317.22 513.11 L312.82 513.99 L308.43 514.88 L304.04 515.78 L299.64 516.69Z" fill="#F8766D" fill-opacity="0.2"/>
<line x1="299.64" y1="505.69" x2="475.44" y2="483" stroke="#F8766D" stroke-width="5.0"/>
<path d="M299.64 487.21 L304.04 487.72 L308.43 488.22 L312.82 488.7 L317.22 489.17 L321.62 489.62 L326.01 490.05 L330.41 490.46 L334.8 490.85 L339.2 491.22 L343.59 491.56 L347.99 491.87 L352.38 492.16 L356.78 492.42 L361.17 492.65 L365.57 492.84 L369.96 493 L374.36 493.13 L378.75 493.22 L383.14 493.27 L387.54 493.29 L391.94 493.27 L396.33 493.22 L400.73 493.13 L405.12 493 L409.52 492.84 L413.91 492.65 L418.31 492.42 L422.7 492.16 L427.1 491.87 L431.49 491.56 L435.88 491.22 L440.28 490.85 L444.68 490.46 L449.07 490.05 L453.47 489.62 L457.86 489.17 L462.26 488.7 L466.65 488.22 L471.05 487.72 L475.44 487.21 L475.44 528.39 L471.05 527.87 L466.65 527.38 L462.26 526.89 L457.86 526.43 L453.47 525.98 L449.07 525.55 L444.68 525.14 L440.28 524.75 L435.88 524.38 L431.49 524.04 L427.1 523.72 L422.7 523.44 L418.31 523.18 L413.91 522.95 L409.52 522.76 L405.12 522.59 L400.73 522.47 L396.33 522.38 L391.94 522.32 L387.54 522.3 L383.14 522.32 L378.75 522.38 L374.36 522.47 L369.96 522.59 L365.57 522.76 L361.17 522.95 L356.78 523.18 L352.38 523.44 L347.99 523.72 L343.59 524.04 L339.2 524.38 L334.8 524.75 L330.41 525.14 L326.01 525.55 L321.62 525.98 L317.22 526.43 L312.82 526.89 L308.43 527.38 L304.04 527.87 L299.64 528.39Z" fill="#00BFC4" fill-opacity="0.2"/>
<line x1="299.64" y1="507.8" x2="475.44" y2="507.8" stroke="#00BFC4" stroke-width="5.0"/>
</g>
<rect x="290.85" y="383.75" width="193.4" height="320.9" fill="none" stroke="#262626" stroke-width="1.8"/>
<g clip-path="url(#c12)">
<line x1="500.4" x2="693.8" y1="667.82" y2="667.82" stroke="#ECECEC" stroke-width="1.3"/>
<line x1="500.4" x2="693.8" y1="574.24" y2="574.24" stroke="#ECECEC" stroke-width="1.3"/>
<line x1="500.4" x2="693.8" y1="480.66" y2="480.66" stroke="#ECECEC" stroke-width="1.3"/>
<line x1="500.4" x2="693.8" y1="387.08" y2="387.08" stroke="#ECECEC" stroke-width="1.3"/>
<line x1="553.14" x2="553.14" y1="383.75" y2="704.65" stroke="#ECECEC" stroke-width="1.3"/>
<line x1="641.04" x2="641.04" y1="383.75" y2="704.65" stroke="#ECECEC" stroke-width="1.3"/>
<line x1="500.4" x2="693.8" y1="621.03" y2="621.03" stroke="#E8E8E8" stroke-width="2.2"/>
<line x1="500.4" x2="693.8" y1="527.45" y2="527.45" stroke="#E8E8E8" stroke-width="2.2"/>
<line x1="500.4" x2="693.8" y1="433.87" y2="433.87" stroke="#E8E8E8" stroke-width="2.2"/>
<line x1="509.19" x2="509.19" y1="383.75" y2="704.65" stroke="#E8E8E8" stroke-width="2.2"/>
<line x1="597.09" x2="597.09" y1="383.75" y2="704.65" stroke="#E8E8E8" stroke-width="2.2"/>
<line x1="684.99" x2="684.99" y1="383.75" y2="704.65" stroke="#E8E8E8" stroke-width="2.2"/>
<path d="M509.19 518.56 L513.59 518.61 L517.98 518.64 L522.38 518.66 L526.77 518.66 L531.17 518.65 L535.56 518.62 L539.96 518.58 L544.35 518.51 L548.75 518.42 L553.14 518.31 L557.54 518.18 L561.93 518.02 L566.33 517.84 L570.72 517.63 L575.12 517.39 L579.51 517.13 L583.91 516.83 L588.3 516.5 L592.7 516.14 L597.09 515.75 L601.49 515.33 L605.88 514.88 L610.28 514.39 L614.67 513.88 L619.07 513.34 L623.46 512.77 L627.86 512.17 L632.25 511.54 L636.65 510.89 L641.04 510.21 L645.44 509.51 L649.83 508.8 L654.23 508.06 L658.62 507.3 L663.02 506.52 L667.41 505.73 L671.81 504.92 L676.2 504.1 L680.6 503.27 L684.99 502.42 L684.99 540.32 L680.6 540.26 L676.2 540.23 L671.81 540.2 L667.41 540.19 L663.02 540.19 L658.62 540.21 L654.23 540.25 L649.83 540.3 L645.44 540.38 L641.04 540.48 L636.65 540.6 L632.25 540.74 L627.86 540.91 L623.46 541.11 L619.07 541.33 L614.67 541.58 L610.28 541.86 L605.88 542.17 L601.49 542.52 L597.09 542.89 L592.7 543.3 L588.3 543.73 L583.91 544.2 L579.51 544.7 L575.12 545.23 L570.72 545.78 L566.33 546.37 L561.93 546.98 L557.54 547.62 L553.14 548.28 L548.75 548.97 L544.35 549.68 L539.96 550.41 L535.56 551.16 L531.17 551.92 L526.77 552.71 L522.38 553.51 L517.98 554.32 L513.59 555.15 L509.19 555.99Z" fill="#F8766D" fill-opacity="0.2"/>
<line x1="509.19" y1="537.28" x2="684.99" y2="521.37" stroke="#F8766D" stroke-width="5.0"/>
<path d="M509.19 529.79 L513.59 529.64 L517.98 529.49 L522.38 529.34 L526.77 529.19 L531.17 529.03 L535.56 528.87 L539.96 528.71 L544.35 528.54 L548.75 528.37 L553.14 528.19 L557.54 528.01 L561.93 527.83 L566.33 527.64 L570.72 527.44 L575.12 527.24 L579.51 527.03 L583.91 526.81 L588.3 526.59 L592.7 526.35 L597.09 526.12 L601.49 525.87 L605.88 525.62 L610.28 525.36 L614.67 525.09 L619.07 524.81 L623.46 524.53 L627.86 524.25 L632.25 523.95 L636.65 523.65 L641.04 523.35 L645.44 523.04 L649.83 522.73 L654.23 522.41 L658.62 522.09 L663.02 521.77 L667.41 521.44 L671.81 521.11 L676.2 520.78 L680.6 520.44 L684.99 520.1 L684.99 526.65 L680.6 526.8 L676.2 526.95 L671.81 527.1 L667.41 527.26 L663.02 527.41 L658.62 527.57 L654.23 527.74 L649.83 527.9 L645.44 528.08 L641.04 528.25 L636.65 528.43 L632.25 528.62 L627.86 528.81 L623.46 529.01 L619.07 529.21 L614.67 529.42 L610.28 529.63 L605.88 529.86 L601.49 530.09 L597.09 530.33 L592.7 530.57 L588.3 530.83 L583.91 531.09 L579.51 531.36 L575.12 531.63 L570.72 531.91 L566.33 532.2 L561.93 532.49 L557.54 532.79 L553.14 533.09 L548.75 533.4 L544.35 533.72 L539.96 534.03 L535.56 534.35 L531.17 534.68 L526.77 535.01 L522.38 535.34 L517.98 535.67 L513.59 536 L509.19 536.34Z" fill="#00BFC4" fill-opacity="0.2"/>
<line x1="509.19" y1="533.06" x2="684.99" y2="523.38" stroke="#00BFC4" stroke-width="5.0"/>
</g>
<rect x="500.4" y="383.75" width="193.4" height="320.9" fill="none" stroke="#262626" stroke-width="1.8"/>
<g clip-path="url(#c13)">
<line x1="709.95" x2="903.35" y1="667.82" y2="667.82" stroke="#ECECEC" stroke-width="1.3"/>
<line x1="709.95" x2="903.35" y1="574.24" y2="574.24" stroke="#ECECEC" stroke-width="1.3"/>
<line x1="709.95" x2="903.35" y1="480.66" y2="480.66" stroke="#ECECEC" stroke-width="1.3"/>
<line x1="709.95" x2="903.35" y1="387.08" y2="387.08" stroke="#ECECEC" stroke-width="1.3"/>
<line x1="762.69" x2="762.69" y1="383.75" y2="704.65" stroke="#ECECEC" stroke-width="1.3"/>
<line x1="850.59" x2="850.59" y1="383.75" y2="704.65" stroke="#ECECEC" stroke-width="1.3"/>
<line x1="709.95" x2="903.35" y1="621.03" y2="621.03" stroke="#E8E8E8" stroke-width="2.2"/>
<line x1="709.95" x2="903.35" y1="527.45" y2="527.45" stroke="#E8E8E8" stroke-width="2.2"/>
<line x1="709.95" x2="903.35" y1="433.87" y2="433.87" stroke="#E8E8E8" stroke-width="2.2"/>
<line x1="718.74" x2="718.74" y1="383.75" y2="704.65" stroke="#E8E8E8" stroke-width="2.2"/>
<line x1="806.64" x2="806.64" y1="383.75" y2="704.65" stroke="#E8E8E8" stroke-width="2.2"/>
<line x1="894.54" x2="894.54" y1="383.75" y2="704.65" stroke="#E8E8E8" stroke-width="2.2"/>
<path d="M718.74 590.62 L723.13 590.3 L727.53 589.97 L731.93 589.64 L736.32 589.31 L740.72 588.96 L745.11 588.6 L749.51 588.24 L753.9 587.86 L758.3 587.47 L762.69 587.06 L767.09 586.64 L771.48 586.2 L775.88 585.73 L780.27 585.24 L784.67 584.72 L789.06 584.17 L793.46 583.59 L797.85 582.97 L802.25 582.31 L806.64 581.61 L811.04 580.87 L815.43 580.09 L819.83 579.27 L824.22 578.41 L828.62 577.52 L833.01 576.59 L837.41 575.63 L841.8 574.65 L846.2 573.65 L850.59 572.62 L854.99 571.57 L859.38 570.51 L863.78 569.43 L868.17 568.34 L872.57 567.24 L876.96 566.13 L881.36 565.01 L885.75 563.88 L890.15 562.75 L894.54 561.61 L894.54 583.6 L890.15 583.92 L885.75 584.25 L881.36 584.58 L876.96 584.92 L872.57 585.28 L868.17 585.64 L863.78 586.01 L859.38 586.39 L854.99 586.79 L850.59 587.21 L846.2 587.64 L841.8 588.1 L837.41 588.58 L833.01 589.08 L828.62 589.62 L824.22 590.19 L819.83 590.79 L815.43 591.44 L811.04 592.12 L806.64 592.84 L802.25 593.6 L797.85 594.41 L793.46 595.25 L789.06 596.13 L784.67 597.04 L780.27 597.98 L775.88 598.95 L771.48 599.95 L767.09 600.97 L762.69 602.01 L758.3 603.06 L753.9 604.13 L749.51 605.22 L745.11 606.31 L740.72 607.42 L736.32 608.54 L731.93 609.66 L727.53 610.79 L723.13 611.93 L718.74 613.08Z" fill="#F8766D" fill-opacity="0.2"/>
<line x1="718.74" y1="601.85" x2="894.54" y2="572.6" stroke="#F8766D" stroke-width="5.0"/>
<path d="M718.74 588.28 L723.13 588.07 L727.53 587.86 L731.93 587.64 L736.32 587.43 L740.72 587.21 L745.11 586.99 L749.51 586.76 L753.9 586.54 L758.3 586.31 L762.69 586.07 L767.09 585.84 L771.48 585.6 L775.88 585.35 L780.27 585.1 L784.67 584.84 L789.06 584.58 L793.46 584.31 L797.85 584.04 L802.25 583.76 L806.64 583.48 L811.04 583.19 L815.43 582.9 L819.83 582.6 L824.22 582.29 L828.62 581.98 L833.01 581.66 L837.41 581.34 L841.8 581.01 L846.2 580.68 L850.59 580.34 L854.99 580 L859.38 579.66 L863.78 579.31 L868.17 578.96 L872.57 578.61 L876.96 578.26 L881.36 577.9 L885.75 577.54 L890.15 577.18 L894.54 576.81 L894.54 582.43 L890.15 582.64 L885.75 582.85 L881.36 583.06 L876.96 583.28 L872.57 583.5 L868.17 583.72 L863.78 583.94 L859.38 584.17 L854.99 584.4 L850.59 584.63 L846.2 584.87 L841.8 585.11 L837.41 585.36 L833.01 585.61 L828.62 585.86 L824.22 586.12 L819.83 586.39 L815.43 586.66 L811.04 586.94 L806.64 587.22 L802.25 587.51 L797.85 587.81 L793.46 588.11 L789.06 588.42 L784.67 588.73 L780.27 589.05 L775.88 589.37 L771.48 589.7 L767.09 590.03 L762.69 590.36 L758.3 590.7 L753.9 591.05 L749.51 591.39 L745.11 591.74 L740.72 592.09 L736.32 592.45 L731.93 592.81 L727.53 593.17 L723.13 593.53 L718.74 593.89Z" fill="#00BFC4" fill-opacity="0.2"/>
<line x1="718.74" y1="591.08" x2="894.54" y2="579.62" stroke="#00BFC4" stroke-width="5.0"/>
</g>
<rect x="709.95" y="383.75" width="193.4" height="320.9" fill="none" stroke="#262626" stroke-width="1.8"/>
<g clip-path="url(#c14)">
<line x1="919.5" x2="1112.9" y1="667.82" y2="667.82" stroke="#ECECEC" stroke-width="1.3"/>
<line x1="919.5" x2="1112.9" y1="574.24" y2="574.24" stroke="#ECECEC" stroke-width="1.3"/>
<line x1="919.5" x2="1112.9" y1="480.66" y2="480.66" stroke="#ECECEC" stroke-width="1.3"/>
<line x1="919.5" x2="1112.9" y1="387.08" y2="387.08" stroke="#ECECEC" stroke-width="1.3"/>
<line x1="972.24" x2="972.24" y1="383.75" y2="704.65" stroke="#ECECEC" stroke-width="1.3"/>
<line x1="1060.14" x2="1060.14" y1="383.75" y2="704.65" stroke="#ECECEC" stroke-width="1.3"/>
<line x1="919.5" x2="1112.9" y1="621.03" y2="621.03" stroke="#E8E8E8" stroke-width="2.2"/>
<line x1="919.5" x2="1112.9" y1="527.45" y2="527.45" stroke="#E8E8E8" stroke-width="2.2"/>
<line x1="919.5" x2="1112.9" y1="433.87" y2="433.87" stroke="#E8E8E8" stroke-width="2.2"/>
<line x1="928.29" x2="928.29" y1="383.75" y2="704.65" stroke="#E8E8E8" stroke-width="2.2"/>
<line x1="1016.19" x2="1016.19" y1="383.75" y2="704.65" stroke="#E8E8E8" stroke-width="2.2"/>
<line x1="1104.09" x2="1104.09" y1="383.75" y2="704.65" stroke="#E8E8E8" stroke-width="2.2"/>
<path d="M928.29 614.95 L932.68 615.06 L937.08 615.15 L941.48 615.23 L945.87 615.29 L950.26 615.34 L954.66 615.35 L959.06 615.35 L963.45 615.32 L967.85 615.26 L972.24 615.18 L976.63 615.06 L981.03 614.9 L985.42 614.71 L989.82 614.48 L994.22 614.2 L998.61 613.88 L1003 613.52 L1007.4 613.11 L1011.79 612.65 L1016.19 612.14 L1020.59 611.58 L1024.98 610.98 L1029.38 610.32 L1033.77 609.63 L1038.16 608.88 L1042.56 608.1 L1046.95 607.27 L1051.35 606.4 L1055.75 605.5 L1060.14 604.57 L1064.54 603.61 L1068.93 602.62 L1073.33 601.6 L1077.72 600.55 L1082.12 599.49 L1086.51 598.4 L1090.9 597.3 L1095.3 596.18 L1099.69 595.04 L1104.09 593.89 L1104.09 638.81 L1099.69 638.69 L1095.3 638.58 L1090.9 638.49 L1086.51 638.42 L1082.12 638.36 L1077.72 638.32 L1073.33 638.31 L1068.93 638.32 L1064.54 638.36 L1060.14 638.42 L1055.75 638.52 L1051.35 638.65 L1046.95 638.81 L1042.56 639.02 L1038.16 639.26 L1033.77 639.55 L1029.38 639.88 L1024.98 640.25 L1020.59 640.68 L1016.19 641.15 L1011.79 641.67 L1007.4 642.24 L1003 642.86 L998.61 643.52 L994.22 644.24 L989.82 644.99 L985.42 645.79 L981.03 646.62 L976.63 647.5 L972.24 648.41 L967.85 649.35 L963.45 650.32 L959.06 651.32 L954.66 652.35 L950.26 653.39 L945.87 654.47 L941.48 655.56 L937.08 656.66 L932.68 657.79 L928.29 658.93Z" fill="#F8766D" fill-opacity="0.2"/>
<line x1="928.29" y1="636.94" x2="1104.09" y2="616.35" stroke="#F8766D" stroke-width="5.0"/>
<path d="M928.29 614.01 L932.68 613.73 L937.08 613.44 L941.48 613.15 L945.87 612.85 L950.26 612.55 L954.66 612.25 L959.06 611.94 L963.45 611.62 L967.85 611.29 L972.24 610.96 L976.63 610.62 L981.03 610.27 L985.42 609.91 L989.82 609.53 L994.22 609.15 L998.61 608.75 L1003 608.33 L1007.4 607.9 L1011.79 607.46 L1016.19 606.99 L1020.59 606.51 L1024.98 606.02 L1029.38 605.5 L1033.77 604.97 L1038.16 604.42 L1042.56 603.86 L1046.95 603.28 L1051.35 602.69 L1055.75 602.08 L1060.14 601.46 L1064.54 600.83 L1068.93 600.2 L1073.33 599.55 L1077.72 598.89 L1082.12 598.23 L1086.51 597.56 L1090.9 596.88 L1095.3 596.2 L1099.69 595.52 L1104.09 594.83 L1104.09 606.99 L1099.69 607.29 L1095.3 607.58 L1090.9 607.88 L1086.51 608.19 L1082.12 608.5 L1077.72 608.82 L1073.33 609.15 L1068.93 609.49 L1064.54 609.83 L1060.14 610.18 L1055.75 610.55 L1051.35 610.93 L1046.95 611.32 L1042.56 611.72 L1038.16 612.14 L1033.77 612.57 L1029.38 613.02 L1024.98 613.49 L1020.59 613.98 L1016.19 614.48 L1011.79 615 L1007.4 615.54 L1003 616.09 L998.61 616.66 L994.22 617.24 L989.82 617.84 L985.42 618.44 L981.03 619.06 L976.63 619.7 L972.24 620.34 L967.85 620.99 L963.45 621.64 L959.06 622.31 L954.66 622.98 L950.26 623.66 L945.87 624.34 L941.48 625.03 L937.08 625.72 L932.68 626.41 L928.29 627.11Z" fill="#00BFC4" fill-opacity="0.2"/>
<line x1="928.29" y1="620.56" x2="1104.09" y2="600.91" stroke="#00BFC4" stroke-width="5.0"/>
</g>
<rect x="919.5" y="383.75" width="193.4" height="320.9" fill="none" stroke="#262626" stroke-width="1.8"/>
<g clip-path="url(#c15)">
<line x1="1129.05" x2="1322.45" y1="667.82" y2="667.82" stroke="#ECECEC" stroke-width="1.3"/>
<line x1="1129.05" x2="1322.45" y1="574.24" y2="574.24" stroke="#ECECEC" stroke-width="1.3"/>
<line x1="1129.05" x2="1322.45" y1="480.66" y2="480.66" stroke="#ECECEC" stroke-width="1.3"/>
<line x1="1129.05" x2="1322.45" y1="387.08" y2="387.08" stroke="#ECECEC" stroke-width="1.3"/>
<line x1="1181.79" x2="1181.79" y1="383.75" y2="704.65" stroke="#ECECEC" stroke-width="1.3"/>
<line x1="1269.69" x2="1269.69" y1="383.75" y2="704.65" stroke="#ECECEC" stroke-width="1.3"/>
<line x1="1129.05" x2="1322.45" y1="621.03" y2="621.03" stroke="#E8E8E8" stroke-width="2.2"/>
<line x1="1129.05" x2="1322.45" y1="527.45" y2="527.45" stroke="#E8E8E8" stroke-width="2.2"/>
<line x1="1129.05" x2="1322.45" y1="433.87" y2="433.87" stroke="#E8E8E8" stroke-width="2.2"/>
<line x1="1137.84" x2="1137.84" y1="383.75" y2="704.65" stroke="#E8E8E8" stroke-width="2.2"/>
<line x1="1225.74" x2="1225.74" y1="383.75" y2="704.65" stroke="#E8E8E8" stroke-width="2.2"/>
<line x1="1313.64" x2="1313.64" y1="383.75" y2="704.65" stroke="#E8E8E8" stroke-width="2.2"/>
<path d="M1137.84 566.29 L1142.23 565.81 L1146.63 565.33 L1151.02 564.84 L1155.42 564.34 L1159.82 563.84 L1164.21 563.32 L1168.61 562.79 L1173 562.25 L1177.39 561.7 L1181.79 561.13 L1186.18 560.54 L1190.58 559.94 L1194.97 559.31 L1199.37 558.66 L1203.76 557.99 L1208.16 557.29 L1212.56 556.57 L1216.95 555.82 L1221.35 555.04 L1225.74 554.24 L1230.13 553.4 L1234.53 552.54 L1238.92 551.66 L1243.32 550.74 L1247.71 549.81 L1252.11 548.85 L1256.5 547.87 L1260.9 546.88 L1265.3 545.87 L1269.69 544.84 L1274.09 543.8 L1278.48 542.75 L1282.88 541.68 L1287.27 540.61 L1291.66 539.52 L1296.06 538.43 L1300.45 537.33 L1304.85 536.23 L1309.24 535.12 L1313.64 534 L1313.64 554.12 L1309.24 554.58 L1304.85 555.05 L1300.45 555.53 L1296.06 556.01 L1291.66 556.49 L1287.27 556.99 L1282.88 557.49 L1278.48 558.01 L1274.09 558.53 L1269.69 559.07 L1265.3 559.62 L1260.9 560.19 L1256.5 560.78 L1252.11 561.38 L1247.71 562 L1243.32 562.64 L1238.92 563.31 L1234.53 564 L1230.13 564.72 L1225.74 565.47 L1221.35 566.24 L1216.95 567.04 L1212.56 567.87 L1208.16 568.73 L1203.76 569.61 L1199.37 570.52 L1194.97 571.45 L1190.58 572.4 L1186.18 573.38 L1181.79 574.37 L1177.39 575.38 L1173 576.4 L1168.61 577.44 L1164.21 578.49 L1159.82 579.56 L1155.42 580.63 L1151.02 581.71 L1146.63 582.8 L1142.23 583.9 L1137.84 585Z" fill="#F8766D" fill-opacity="0.2"/>
<line x1="1137.84" y1="575.64" x2="1313.64" y2="544.06" stroke="#F8766D" stroke-width="5.0"/>
<path d="M1137.84 548.27 L1142.23 549 L1146.63 549.7 L1151.02 550.38 L1155.42 551.03 L1159.82 551.64 L1164.21 552.23 L1168.61 552.78 L1173 553.29 L1177.39 553.76 L1181.79 554.18 L1186.18 554.54 L1190.58 554.86 L1194.97 555.11 L1199.37 555.29 L1203.76 555.41 L1208.16 555.45 L1212.56 555.41 L1216.95 555.3 L1221.35 555.1 L1225.74 554.82 L1230.13 554.46 L1234.53 554.02 L1238.92 553.49 L1243.32 552.89 L1247.71 552.21 L1252.11 551.46 L1256.5 550.65 L1260.9 549.77 L1265.3 548.84 L1269.69 547.85 L1274.09 546.81 L1278.48 545.73 L1282.88 544.61 L1287.27 543.45 L1291.66 542.26 L1296.06 541.03 L1300.45 539.78 L1304.85 538.5 L1309.24 537.2 L1313.64 535.87 L1313.64 604.19 L1309.24 603.45 L1304.85 602.73 L1300.45 602.03 L1296.06 601.37 L1291.66 600.73 L1287.27 600.12 L1282.88 599.54 L1278.48 599 L1274.09 598.51 L1269.69 598.06 L1265.3 597.65 L1260.9 597.3 L1256.5 597.01 L1252.11 596.78 L1247.71 596.62 L1243.32 596.53 L1238.92 596.51 L1234.53 596.57 L1230.13 596.71 L1225.74 596.93 L1221.35 597.24 L1216.95 597.63 L1212.56 598.1 L1208.16 598.65 L1203.76 599.27 L1199.37 599.97 L1194.97 600.74 L1190.58 601.58 L1186.18 602.47 L1181.79 603.43 L1177.39 604.43 L1173 605.48 L1168.61 606.58 L1164.21 607.71 L1159.82 608.88 L1155.42 610.09 L1151.02 611.32 L1146.63 612.58 L1142.23 613.87 L1137.84 615.18Z" fill="#00BFC4" fill-opacity="0.2"/>
<line x1="1137.84" y1="581.73" x2="1313.64" y2="570.03" stroke="#00BFC4" stroke-width="5.0"/>
</g>
<rect x="1129.05" y="383.75" width="193.4" height="320.9" fill="none" stroke="#262626" stroke-width="1.8"/>
<g clip-path="url(#c16)">
<line x1="1338.6" x2="1532" y1="667.82" y2="667.82" stroke="#ECECEC" stroke-width="1.3"/>
<line x1="1338.6" x2="1532" y1="574.24" y2="574.24" stroke="#ECECEC" stroke-width="1.3"/>
<line x1="1338.6" x2="1532" y1="480.66" y2="480.66" stroke="#ECECEC" stroke-width="1.3"/>
<line x1="1338.6" x2="1532" y1="387.08" y2="387.08" stroke="#ECECEC" stroke-width="1.3"/>
<line x1="1391.34" x2="1391.34" y1="383.75" y2="704.65" stroke="#ECECEC" stroke-width="1.3"/>
<line x1="1479.24" x2="1479.24" y1="383.75" y2="704.65" stroke="#ECECEC" stroke-width="1.3"/>
<line x1="1338.6" x2="1532" y1="621.03" y2="621.03" stroke="#E8E8E8" stroke-width="2.2"/>
<line x1="1338.6" x2="1532" y1="527.45" y2="527.45" stroke="#E8E8E8" stroke-width="2.2"/>
<line x1="1338.6" x2="1532" y1="433.87" y2="433.87" stroke="#E8E8E8" stroke-width="2.2"/>
<line x1="1347.39" x2="1347.39" y1="383.75" y2="704.65" stroke="#E8E8E8" stroke-width="2.2"/>
<line x1="1435.29" x2="1435.29" y1="383.75" y2="704.65" stroke="#E8E8E8" stroke-width="2.2"/>
<line x1="1523.19" x2="1523.19" y1="383.75" y2="704.65" stroke="#E8E8E8" stroke-width="2.2"/>
<path d="M1347.39 570.03 L1351.79 569.84 L1356.18 569.66 L1360.58 569.47 L1364.97 569.27 L1369.37 569.08 L1373.76 568.88 L1378.16 568.68 L1382.55 568.47 L1386.95 568.26 L1391.34 568.05 L1395.74 567.83 L1400.13 567.6 L1404.53 567.37 L1408.92 567.14 L1413.32 566.9 L1417.71 566.65 L1422.11 566.39 L1426.5 566.13 L1430.9 565.86 L1435.29 565.58 L1439.69 565.3 L1444.08 565.01 L1448.48 564.71 L1452.87 564.4 L1457.27 564.09 L1461.66 563.77 L1466.06 563.44 L1470.45 563.11 L1474.85 562.77 L1479.24 562.43 L1483.64 562.08 L1488.03 561.73 L1492.43 561.38 L1496.82 561.02 L1501.22 560.65 L1505.61 560.29 L1510.01 559.92 L1514.4 559.55 L1518.8 559.18 L1523.19 558.8 L1523.19 565.35 L1518.8 565.54 L1514.4 565.72 L1510.01 565.91 L1505.61 566.11 L1501.22 566.3 L1496.82 566.5 L1492.43 566.7 L1488.03 566.91 L1483.64 567.12 L1479.24 567.33 L1474.85 567.55 L1470.45 567.78 L1466.06 568.01 L1461.66 568.24 L1457.27 568.48 L1452.87 568.73 L1448.48 568.99 L1444.08 569.25 L1439.69 569.52 L1435.29 569.79 L1430.9 570.08 L1426.5 570.37 L1422.11 570.67 L1417.71 570.98 L1413.32 571.29 L1408.92 571.61 L1404.53 571.94 L1400.13 572.27 L1395.74 572.61 L1391.34 572.95 L1386.95 573.29 L1382.55 573.65 L1378.16 574 L1373.76 574.36 L1369.37 574.72 L1364.97 575.09 L1360.58 575.46 L1356.18 575.83 L1351.79 576.2 L1347.39 576.58Z" fill="#F8766D" fill-opacity="0.2"/>
<line x1="1347.39" y1="573.3" x2="1523.19" y2="562.07" stroke="#F8766D" stroke-width="5.0"/>
<path d="M1347.39 560.48 L1351.79 560.4 L1356.18 560.32 L1360.58 560.23 L1364.97 560.14 L1369.37 560.05 L1373.76 559.96 L1378.16 559.86 L1382.55 559.76 L1386.95 559.65 L1391.34 559.54 L1395.74 559.43 L1400.13 559.31 L1404.53 559.18 L1408.92 559.05 L1413.32 558.91 L1417.71 558.77 L1422.11 558.62 L1426.5 558.46 L1430.9 558.29 L1435.29 558.12 L1439.69 557.94 L1444.08 557.75 L1448.48 557.56 L1452.87 557.36 L1457.27 557.15 L1461.66 556.93 L1466.06 556.71 L1470.45 556.48 L1474.85 556.25 L1479.24 556.01 L1483.64 555.77 L1488.03 555.52 L1492.43 555.27 L1496.82 555.01 L1501.22 554.75 L1505.61 554.49 L1510.01 554.23 L1514.4 553.96 L1518.8 553.69 L1523.19 553.42 L1523.19 559.97 L1518.8 560.05 L1514.4 560.13 L1510.01 560.22 L1505.61 560.31 L1501.22 560.4 L1496.82 560.5 L1492.43 560.59 L1488.03 560.7 L1483.64 560.8 L1479.24 560.91 L1474.85 561.03 L1470.45 561.15 L1466.06 561.27 L1461.66 561.4 L1457.27 561.54 L1452.87 561.68 L1448.48 561.84 L1444.08 561.99 L1439.69 562.16 L1435.29 562.33 L1430.9 562.51 L1426.5 562.7 L1422.11 562.9 L1417.71 563.1 L1413.32 563.31 L1408.92 563.52 L1404.53 563.74 L1400.13 563.97 L1395.74 564.21 L1391.34 564.44 L1386.95 564.69 L1382.55 564.93 L1378.16 565.19 L1373.76 565.44 L1369.37 565.7 L1364.97 565.96 L1360.58 566.23 L1356.18 566.49 L1351.79 566.76 L1347.39 567.03Z" fill="#00BFC4" fill-opacity="0.2"/>
<line x1="1347.39" y1="563.76" x2="1523.19" y2="556.69" stroke="#00BFC4" stroke-width="5.0"/>
</g>
<rect x="1338.6" y="383.75" width="193.4" height="320.9" fill="none" stroke="#262626" stroke-width="1.8"/>
<g clip-path="url(#c20)">
<line x1="81.3" x2="274.7" y1="1004.92" y2="1004.92" stroke="#ECECEC" stroke-width="1.3"/>
<line x1="81.3" x2="274.7" y1="911.34" y2="911.34" stroke="#ECECEC" stroke-width="1.3"/>
<line x1="81.3" x2="274.7" y1="817.76" y2="817.76" stroke="#ECECEC" stroke-width="1.3"/>
<line x1="81.3" x2="274.7" y1="724.18" y2="724.18" stroke="#ECECEC" stroke-width="1.3"/>
<line x1="134.04" x2="134.04" y1="720.85" y2="1041.75" stroke="#ECECEC" stroke-width="1.3"/>
<line x1="221.94" x2="221.94" y1="720.85" y2="1041.75" stroke="#ECECEC" stroke-width="1.3"/>
<line x1="81.3" x2="274.7" y1="958.13" y2="958.13" stroke="#E8E8E8" stroke-width="2.2"/>
<line x1="81.3" x2="274.7" y1="864.55" y2="864.55" stroke="#E8E8E8" stroke-width="2.2"/>
<line x1="81.3" x2="274.7" y1="770.97" y2="770.97" stroke="#E8E8E8" stroke-width="2.2"/>
<line x1="90.09" x2="90.09" y1="720.85" y2="1041.75" stroke="#E8E8E8" stroke-width="2.2"/>
<line x1="177.99" x2="177.99" y1="720.85" y2="1041.75" stroke="#E8E8E8" stroke-width="2.2"/>
<line x1="265.89" x2="265.89" y1="720.85" y2="1041.75" stroke="#E8E8E8" stroke-width="2.2"/>
<path d="M90.09 899.64 L94.48 899.36 L98.88 899.08 L103.27 898.8 L107.67 898.51 L112.06 898.22 L116.46 897.93 L120.86 897.64 L125.25 897.34 L129.64 897.04 L134.04 896.74 L138.44 896.43 L142.83 896.12 L147.22 895.8 L151.62 895.48 L156.01 895.15 L160.41 894.82 L164.81 894.49 L169.2 894.14 L173.59 893.8 L177.99 893.44 L182.38 893.08 L186.78 892.72 L191.18 892.35 L195.57 891.97 L199.97 891.59 L204.36 891.2 L208.76 890.81 L213.15 890.41 L217.55 890.01 L221.94 889.6 L226.33 889.19 L230.73 888.78 L235.12 888.36 L239.52 887.94 L243.92 887.52 L248.31 887.1 L252.71 886.67 L257.1 886.24 L261.5 885.81 L265.89 885.37 L265.89 890.99 L261.5 891.27 L257.1 891.55 L252.71 891.83 L248.31 892.12 L243.92 892.41 L239.52 892.7 L235.12 892.99 L230.73 893.29 L226.33 893.59 L221.94 893.89 L217.55 894.2 L213.15 894.51 L208.76 894.83 L204.36 895.15 L199.97 895.47 L195.57 895.81 L191.18 896.14 L186.78 896.48 L182.38 896.83 L177.99 897.19 L173.59 897.55 L169.2 897.91 L164.81 898.28 L160.41 898.66 L156.01 899.04 L151.62 899.43 L147.22 899.82 L142.83 900.22 L138.44 900.62 L134.04 901.03 L129.64 901.44 L125.25 901.85 L120.86 902.27 L116.46 902.69 L112.06 903.11 L107.67 903.53 L103.27 903.96 L98.88 904.39 L94.48 904.82 L90.09 905.26Z" fill="#F8766D" fill-opacity="0.2"/>
<line x1="90.09" y1="902.45" x2="265.89" y2="888.18" stroke="#F8766D" stroke-width="5.0"/>
<path d="M90.09 931.23 L94.48 930.05 L98.88 928.87 L103.27 927.68 L107.67 926.47 L112.06 925.25 L116.46 924.01 L120.86 922.76 L125.25 921.49 L129.64 920.2 L134.04 918.89 L138.44 917.55 L142.83 916.18 L147.22 914.79 L151.62 913.37 L156.01 911.91 L160.41 910.42 L164.81 908.9 L169.2 907.33 L173.59 905.73 L177.99 904.09 L182.38 902.4 L186.78 900.68 L191.18 898.92 L195.57 897.12 L199.97 895.28 L204.36 893.4 L208.76 891.49 L213.15 889.55 L217.55 887.59 L221.94 885.59 L226.33 883.57 L230.73 881.52 L235.12 879.46 L239.52 877.37 L243.92 875.27 L248.31 873.15 L252.71 871.02 L257.1 868.88 L261.5 866.72 L265.89 864.55 L265.89 897.3 L261.5 898.48 L257.1 899.67 L252.71 900.87 L248.31 902.08 L243.92 903.31 L239.52 904.55 L235.12 905.81 L230.73 907.09 L226.33 908.39 L221.94 909.72 L217.55 911.07 L213.15 912.44 L208.76 913.85 L204.36 915.29 L199.97 916.76 L195.57 918.27 L191.18 919.81 L186.78 921.39 L182.38 923.01 L177.99 924.68 L173.59 926.38 L169.2 928.12 L164.81 929.9 L160.41 931.72 L156.01 933.58 L151.62 935.47 L147.22 937.39 L142.83 939.34 L138.44 941.32 L134.04 943.33 L129.64 945.36 L125.25 947.42 L120.86 949.49 L116.46 951.59 L112.06 953.69 L107.67 955.82 L103.27 957.96 L98.88 960.11 L94.48 962.27 L90.09 964.45Z" fill="#00BFC4" fill-opacity="0.2"/>
<line x1="90.09" y1="947.84" x2="265.89" y2="880.93" stroke="#00BFC4" stroke-width="5.0"/>
</g>
<rect x="81.3" y="720.85" width="193.4" height="320.9" fill="none" stroke="#262626" stroke-width="1.8"/>
<g clip-path="url(#c21)">
<line x1="290.85" x2="484.25" y1="1004.92" y2="1004.92" stroke="#ECECEC" stroke-width="1.3"/>
<line x1="290.85" x2="484.25" y1="911.34" y2="911.34" stroke="#ECECEC" stroke-width="1.3"/>
<line x1="290.85" x2="484.25" y1="817.76" y2="817.76" stroke="#ECECEC" stroke-width="1.3"/>
<line x1="290.85" x2="484.25" y1="724.18" y2="724.18" stroke="#ECECEC" stroke-width="1.3"/>
<line x1="343.59" x2="343.59" y1="720.85" y2="1041.75" stroke="#ECECEC" stroke-width="1.3"/>
<line x1="431.49" x2="431.49" y1="720.85" y2="1041.75" stroke="#ECECEC" stroke-width="1.3"/>
<line x1="290.85" x2="484.25" y1="958.13" y2="958.13" stroke="#E8E8E8" stroke-width="2.2"/>
<line x1="290.85" x2="484.25" y1="864.55" y2="864.55" stroke="#E8E8E8" stroke-width="2.2"/>
<line x1="290.85" x2="484.25" y1="770.97" y2="770.97" stroke="#E8E8E8" stroke-width="2.2"/>
<line x1="299.64" x2="299.64" y1="720.85" y2="1041.75" stroke="#E8E8E8" stroke-width="2.2"/>
<line x1="387.54" x2="387.54" y1="720.85" y2="1041.75" stroke="#E8E8E8" stroke-width="2.2"/>
<line x1="475.44" x2="475.44" y1="720.85" y2="1041.75" stroke="#E8E8E8" stroke-width="2.2"/>
<path d="M299.64 809.34 L304.04 809.55 L308.43 809.74 L312.82 809.92 L317.22 810.09 L321.62 810.23 L326.01 810.36 L330.41 810.47 L334.8 810.55 L339.2 810.61 L343.59 810.63 L347.99 810.63 L352.38 810.59 L356.78 810.52 L361.17 810.41 L365.57 810.25 L369.96 810.05 L374.36 809.8 L378.75 809.5 L383.14 809.15 L387.54 808.75 L391.94 808.3 L396.33 807.79 L400.73 807.24 L405.12 806.63 L409.52 805.98 L413.91 805.28 L418.31 804.54 L422.7 803.76 L427.1 802.95 L431.49 802.09 L435.88 801.21 L440.28 800.3 L444.68 799.37 L449.07 798.41 L453.47 797.43 L457.86 796.42 L462.26 795.41 L466.65 794.37 L471.05 793.32 L475.44 792.26 L475.44 833.43 L471.05 833.23 L466.65 833.03 L462.26 832.85 L457.86 832.69 L453.47 832.54 L449.07 832.41 L444.68 832.31 L440.28 832.22 L435.88 832.17 L431.49 832.14 L427.1 832.14 L422.7 832.18 L418.31 832.25 L413.91 832.37 L409.52 832.52 L405.12 832.72 L400.73 832.97 L396.33 833.27 L391.94 833.62 L387.54 834.02 L383.14 834.47 L378.75 834.98 L374.36 835.53 L369.96 836.14 L365.57 836.79 L361.17 837.49 L356.78 838.23 L352.38 839.01 L347.99 839.83 L343.59 840.68 L339.2 841.56 L334.8 842.47 L330.41 843.41 L326.01 844.37 L321.62 845.35 L317.22 846.35 L312.82 847.37 L308.43 848.4 L304.04 849.45 L299.64 850.51Z" fill="#F8766D" fill-opacity="0.2"/>
<line x1="299.64" y1="829.93" x2="475.44" y2="812.85" stroke="#F8766D" stroke-width="5.0"/>
<path d="M299.64 844.57 L304.04 843.72 L308.43 842.86 L312.82 842 L317.22 841.14 L321.62 840.28 L326.01 839.42 L330.41 838.55 L334.8 837.67 L339.2 836.8 L343.59 835.91 L347.99 835.03 L352.38 834.14 L356.78 833.24 L361.17 832.33 L365.57 831.42 L369.96 830.5 L374.36 829.57 L378.75 828.63 L383.14 827.68 L387.54 826.72 L391.94 825.75 L396.33 824.78 L400.73 823.79 L405.12 822.79 L409.52 821.79 L413.91 820.78 L418.31 819.76 L422.7 818.73 L427.1 817.7 L431.49 816.66 L435.88 815.62 L440.28 814.57 L444.68 813.52 L449.07 812.46 L453.47 811.4 L457.86 810.34 L462.26 809.27 L466.65 808.2 L471.05 807.13 L475.44 806.06 L475.44 812.61 L471.05 813.47 L466.65 814.32 L462.26 815.18 L457.86 816.04 L453.47 816.9 L449.07 817.77 L444.68 818.64 L440.28 819.51 L435.88 820.39 L431.49 821.27 L427.1 822.16 L422.7 823.05 L418.31 823.95 L413.91 824.85 L409.52 825.77 L405.12 826.69 L400.73 827.62 L396.33 828.56 L391.94 829.51 L387.54 830.46 L383.14 831.43 L378.75 832.41 L374.36 833.39 L369.96 834.39 L365.57 835.39 L361.17 836.41 L356.78 837.43 L352.38 838.45 L347.99 839.48 L343.59 840.52 L339.2 841.57 L334.8 842.61 L330.41 843.67 L326.01 844.72 L321.62 845.78 L317.22 846.85 L312.82 847.91 L308.43 848.98 L304.04 850.05 L299.64 851.12Z" fill="#00BFC4" fill-opacity="0.2"/>
<line x1="299.64" y1="847.85" x2="475.44" y2="809.34" stroke="#00BFC4" stroke-width="5.0"/>
</g>
<rect x="290.85" y="720.85" width="193.4" height="320.9" fill="none" stroke="#262626" stroke-width="1.8"/>
<g clip-path="url(#c22)">
<line x1="500.4" x2="693.8" y1="1004.92" y2="1004.92" stroke="#ECECEC" stroke-width="1.3"/>
<line x1="500.4" x2="693.8" y1="911.34" y2="911.34" stroke="#ECECEC" stroke-width="1.3"/>
<line x1="500.4" x2="693.8" y1="817.76" y2="817.76" stroke="#ECECEC" stroke-width="1.3"/>
<line x1="500.4" x2="693.8" y1="724.18" y2="724.18" stroke="#ECECEC" stroke-width="1.3"/>
<line x1="553.14" x2="553.14" y1="720.85" y2="1041.75" stroke="#ECECEC" stroke-width="1.3"/>
<line x1="641.04" x2="641.04" y1="720.85" y2="1041.75" stroke="#ECECEC" stroke-width="1.3"/>
<line x1="500.4" x2="693.8" y1="958.13" y2="958.13" stroke="#E8E8E8" stroke-width="2.2"/>
<line x1="500.4" x2="693.8" y1="864.55" y2="864.55" stroke="#E8E8E8" stroke-width="2.2"/>
<line x1="500.4" x2="693.8" y1="770.97" y2="770.97" stroke="#E8E8E8" stroke-width="2.2"/>
<line x1="509.19" x2="509.19" y1="720.85" y2="1041.75" stroke="#E8E8E8" stroke-width="2.2"/>
<line x1="597.09" x2="597.09" y1="720.85" y2="1041.75" stroke="#E8E8E8" stroke-width="2.2"/>
<line x1="684.99" x2="684.99" y1="720.85" y2="1041.75" stroke="#E8E8E8" stroke-width="2.2"/>
<path d="M509.19 869.14 L513.59 868.57 L517.98 868.01 L522.38 867.44 L526.77 866.86 L531.17 866.27 L535.56 865.68 L539.96 865.08 L544.35 864.47 L548.75 863.85 L553.14 863.22 L557.54 862.57 L561.93 861.91 L566.33 861.24 L570.72 860.55 L575.12 859.84 L579.51 859.11 L583.91 858.37 L588.3 857.6 L592.7 856.82 L597.09 856.01 L601.49 855.19 L605.88 854.35 L610.28 853.49 L614.67 852.61 L619.07 851.72 L623.46 850.82 L627.86 849.9 L632.25 848.97 L636.65 848.03 L641.04 847.09 L645.44 846.13 L649.83 845.17 L654.23 844.2 L658.62 843.22 L663.02 842.24 L667.41 841.25 L671.81 840.26 L676.2 839.27 L680.6 838.27 L684.99 837.27 L684.99 851.31 L680.6 851.85 L676.2 852.4 L671.81 852.95 L667.41 853.51 L663.02 854.07 L658.62 854.64 L654.23 855.21 L649.83 855.78 L645.44 856.37 L641.04 856.96 L636.65 857.56 L632.25 858.16 L627.86 858.78 L623.46 859.41 L619.07 860.06 L614.67 860.71 L610.28 861.38 L605.88 862.07 L601.49 862.77 L597.09 863.5 L592.7 864.24 L588.3 865 L583.91 865.78 L579.51 866.58 L575.12 867.4 L570.72 868.24 L566.33 869.09 L561.93 869.97 L557.54 870.85 L553.14 871.76 L548.75 872.67 L544.35 873.59 L539.96 874.53 L535.56 875.48 L531.17 876.43 L526.77 877.39 L522.38 878.36 L517.98 879.34 L513.59 880.32 L509.19 881.3Z" fill="#F8766D" fill-opacity="0.2"/>
<line x1="509.19" y1="875.22" x2="684.99" y2="844.29" stroke="#F8766D" stroke-width="5.0"/>
<path d="M509.19 826.51 L513.59 827.32 L517.98 828.1 L522.38 828.86 L526.77 829.58 L531.17 830.27 L535.56 830.92 L539.96 831.52 L544.35 832.08 L548.75 832.59 L553.14 833.05 L557.54 833.44 L561.93 833.77 L566.33 834.02 L570.72 834.2 L575.12 834.29 L579.51 834.3 L583.91 834.21 L588.3 834.03 L592.7 833.75 L597.09 833.36 L601.49 832.88 L605.88 832.29 L610.28 831.61 L614.67 830.82 L619.07 829.94 L623.46 828.98 L627.86 827.92 L632.25 826.79 L636.65 825.59 L641.04 824.31 L645.44 822.97 L649.83 821.58 L654.23 820.13 L658.62 818.64 L663.02 817.1 L667.41 815.52 L671.81 813.9 L676.2 812.25 L680.6 810.58 L684.99 808.87 L684.99 891.22 L680.6 890.42 L676.2 889.65 L671.81 888.9 L667.41 888.19 L663.02 887.52 L658.62 886.89 L654.23 886.29 L649.83 885.75 L645.44 885.26 L641.04 884.83 L636.65 884.46 L632.25 884.16 L627.86 883.94 L623.46 883.79 L619.07 883.73 L614.67 883.75 L610.28 883.88 L605.88 884.09 L601.49 884.41 L597.09 884.83 L592.7 885.36 L588.3 885.98 L583.91 886.7 L579.51 887.52 L575.12 888.43 L570.72 889.43 L566.33 890.52 L561.93 891.68 L557.54 892.91 L553.14 894.2 L548.75 895.56 L544.35 896.98 L539.96 898.44 L535.56 899.96 L531.17 901.51 L526.77 903.1 L522.38 904.73 L517.98 906.39 L513.59 908.08 L509.19 909.8Z" fill="#00BFC4" fill-opacity="0.2"/>
<line x1="509.19" y1="868.15" x2="684.99" y2="850.05" stroke="#00BFC4" stroke-width="5.0"/>
</g>
<rect x="500.4" y="720.85" width="193.4" height="320.9" fill="none" stroke="#262626" stroke-width="1.8"/>
<g clip-path="url(#c23)">
<line x1="709.95" x2="903.35" y1="1004.92" y2="1004.92" stroke="#ECECEC" stroke-width="1.3"/>
<line x1="709.95" x2="903.35" y1="911.34" y2="911.34" stroke="#ECECEC" stroke-width="1.3"/>
<line x1="709.95" x2="903.35" y1="817.76" y2="817.76" stroke="#ECECEC" stroke-width="1.3"/>
<line x1="709.95" x2="903.35" y1="724.18" y2="724.18" stroke="#ECECEC" stroke-width="1.3"/>
<line x1="762.69" x2="762.69" y1="720.85" y2="1041.75" stroke="#ECECEC" stroke-width="1.3"/>
<line x1="850.59" x2="850.59" y1="720.85" y2="1041.75" stroke="#ECECEC" stroke-width="1.3"/>
<line x1="709.95" x2="903.35" y1="958.13" y2="958.13" stroke="#E8E8E8" stroke-width="2.2"/>
<line x1="709.95" x2="903.35" y1="864.55" y2="864.55" stroke="#E8E8E8" stroke-width="2.2"/>
<line x1="709.95" x2="903.35" y1="770.97" y2="770.97" stroke="#E8E8E8" stroke-width="2.2"/>
<line x1="718.74" x2="718.74" y1="720.85" y2="1041.75" stroke="#E8E8E8" stroke-width="2.2"/>
<line x1="806.64" x2="806.64" y1="720.85" y2="1041.75" stroke="#E8E8E8" stroke-width="2.2"/>
<line x1="894.54" x2="894.54" y1="720.85" y2="1041.75" stroke="#E8E8E8" stroke-width="2.2"/>
<path d="M718.74 893.79 L723.13 894.04 L727.53 894.28 L731.93 894.5 L736.32 894.7 L740.72 894.87 L745.11 895.03 L749.51 895.16 L753.9 895.26 L758.3 895.34 L762.69 895.37 L767.09 895.37 L771.48 895.33 L775.88 895.23 L780.27 895.09 L784.67 894.89 L789.06 894.64 L793.46 894.32 L797.85 893.94 L802.25 893.49 L806.64 892.97 L811.04 892.39 L815.43 891.75 L819.83 891.04 L824.22 890.28 L828.62 889.46 L833.01 888.59 L837.41 887.67 L841.8 886.7 L846.2 885.7 L850.59 884.66 L854.99 883.59 L859.38 882.5 L863.78 881.37 L868.17 880.22 L872.57 879.06 L876.96 877.87 L881.36 876.67 L885.75 875.45 L890.15 874.22 L894.54 872.97 L894.54 918.83 L890.15 918.55 L885.75 918.29 L881.36 918.05 L876.96 917.81 L872.57 917.6 L868.17 917.4 L863.78 917.22 L859.38 917.07 L854.99 916.94 L850.59 916.84 L846.2 916.78 L841.8 916.75 L837.41 916.75 L833.01 916.81 L828.62 916.9 L824.22 917.05 L819.83 917.26 L815.43 917.52 L811.04 917.85 L806.64 918.24 L802.25 918.7 L797.85 919.22 L793.46 919.81 L789.06 920.46 L784.67 921.18 L780.27 921.95 L775.88 922.78 L771.48 923.66 L767.09 924.58 L762.69 925.55 L758.3 926.56 L753.9 927.6 L749.51 928.68 L745.11 929.78 L740.72 930.91 L736.32 932.06 L731.93 933.23 L727.53 934.41 L723.13 935.62 L718.74 936.84Z" fill="#F8766D" fill-opacity="0.2"/>
<line x1="718.74" y1="915.32" x2="894.54" y2="895.9" stroke="#F8766D" stroke-width="5.0"/>
<path d="M718.74 919.76 L723.13 919.19 L727.53 918.61 L731.93 918.02 L736.32 917.42 L740.72 916.81 L745.11 916.19 L749.51 915.55 L753.9 914.9 L758.3 914.24 L762.69 913.56 L767.09 912.86 L771.48 912.14 L775.88 911.4 L780.27 910.63 L784.67 909.83 L789.06 909.01 L793.46 908.15 L797.85 907.26 L802.25 906.33 L806.64 905.37 L811.04 904.38 L815.43 903.35 L819.83 902.29 L824.22 901.19 L828.62 900.06 L833.01 898.91 L837.41 897.72 L841.8 896.51 L846.2 895.28 L850.59 894.03 L854.99 892.75 L859.38 891.46 L863.78 890.16 L868.17 888.84 L872.57 887.5 L876.96 886.16 L881.36 884.81 L885.75 883.44 L890.15 882.07 L894.54 880.69 L894.54 905.02 L890.15 905.6 L885.75 906.18 L881.36 906.77 L876.96 907.37 L872.57 907.98 L868.17 908.6 L863.78 909.23 L859.38 909.88 L854.99 910.54 L850.59 911.22 L846.2 911.92 L841.8 912.64 L837.41 913.39 L833.01 914.16 L828.62 914.95 L824.22 915.78 L819.83 916.64 L815.43 917.53 L811.04 918.45 L806.64 919.41 L802.25 920.41 L797.85 921.43 L793.46 922.5 L789.06 923.59 L784.67 924.72 L780.27 925.88 L775.88 927.06 L771.48 928.27 L767.09 929.51 L762.69 930.76 L758.3 932.03 L753.9 933.32 L749.51 934.63 L745.11 935.95 L740.72 937.28 L736.32 938.62 L731.93 939.98 L727.53 941.34 L723.13 942.71 L718.74 944.09Z" fill="#00BFC4" fill-opacity="0.2"/>
<line x1="718.74" y1="931.93" x2="894.54" y2="892.86" stroke="#00BFC4" stroke-width="5.0"/>
</g>
<rect x="709.95" y="720.85" width="193.4" height="320.9" fill="none" stroke="#262626" stroke-width="1.8"/>
<g clip-path="url(#c24)">
<line x1="919.5" x2="1112.9" y1="1004.92" y2="1004.92" stroke="#ECECEC" stroke-width="1.3"/>
<line x1="919.5" x2="1112.9" y1="911.34" y2="911.34" stroke="#ECECEC" stroke-width="1.3"/>
<line x1="919.5" x2="1112.9" y1="817.76" y2="817.76" stroke="#ECECEC" stroke-width="1.3"/>
<line x1="919.5" x2="1112.9" y1="724.18" y2="724.18" stroke="#ECECEC" stroke-width="1.3"/>
<line x1="972.24" x2="972.24" y1="720.85" y2="1041.75" stroke="#ECECEC" stroke-width="1.3"/>
<line x1="1060.14" x2="1060.14" y1="720.85" y2="1041.75" stroke="#ECECEC" stroke-width="1.3"/>
<line x1="919.5" x2="1112.9" y1="958.13" y2="958.13" stroke="#E8E8E8" stroke-width="2.2"/>
<line x1="919.5" x2="1112.9" y1="864.55" y2="864.55" stroke="#E8E8E8" stroke-width="2.2"/>
<line x1="919.5" x2="1112.9" y1="770.97" y2="770.97" stroke="#E8E8E8" stroke-width="2.2"/>
<line x1="928.29" x2="928.29" y1="720.85" y2="1041.75" stroke="#E8E8E8" stroke-width="2.2"/>
<line x1="1016.19" x2="1016.19" y1="720.85" y2="1041.75" stroke="#E8E8E8" stroke-width="2.2"/>
<line x1="1104.09" x2="1104.09" y1="720.85" y2="1041.75" stroke="#E8E8E8" stroke-width="2.2"/>
<path d="M928.29 918.36 L932.68 919.14 L937.08 919.9 L941.48 920.63 L945.87 921.32 L950.26 921.98 L954.66 922.59 L959.06 923.16 L963.45 923.68 L967.85 924.15 L972.24 924.56 L976.63 924.91 L981.03 925.19 L985.42 925.4 L989.82 925.54 L994.22 925.59 L998.61 925.56 L1003 925.45 L1007.4 925.24 L1011.79 924.95 L1016.19 924.56 L1020.59 924.08 L1024.98 923.52 L1029.38 922.86 L1033.77 922.13 L1038.16 921.32 L1042.56 920.43 L1046.95 919.48 L1051.35 918.46 L1055.75 917.37 L1060.14 916.24 L1064.54 915.05 L1068.93 913.82 L1073.33 912.54 L1077.72 911.23 L1082.12 909.87 L1086.51 908.49 L1090.9 907.08 L1095.3 905.64 L1099.69 904.17 L1104.09 902.68 L1104.09 982.23 L1099.69 981.38 L1095.3 980.56 L1090.9 979.76 L1086.51 978.99 L1082.12 978.25 L1077.72 977.55 L1073.33 976.87 L1068.93 976.24 L1064.54 975.65 L1060.14 975.11 L1055.75 974.61 L1051.35 974.18 L1046.95 973.8 L1042.56 973.49 L1038.16 973.24 L1033.77 973.07 L1029.38 972.98 L1024.98 972.98 L1020.59 973.05 L1016.19 973.22 L1011.79 973.48 L1007.4 973.82 L1003 974.26 L998.61 974.79 L994.22 975.4 L989.82 976.1 L985.42 976.88 L981.03 977.73 L976.63 978.66 L972.24 979.65 L967.85 980.7 L963.45 981.82 L959.06 982.98 L954.66 984.2 L950.26 985.45 L945.87 986.75 L941.48 988.09 L937.08 989.46 L932.68 990.86 L928.29 992.29Z" fill="#F8766D" fill-opacity="0.2"/>
<line x1="928.29" y1="955.32" x2="1104.09" y2="942.46" stroke="#F8766D" stroke-width="5.0"/>
<path d="M928.29 937.54 L932.68 938.09 L937.08 938.63 L941.48 939.14 L945.87 939.63 L950.26 940.09 L954.66 940.52 L959.06 940.92 L963.45 941.28 L967.85 941.6 L972.24 941.89 L976.63 942.12 L981.03 942.3 L985.42 942.43 L989.82 942.5 L994.22 942.5 L998.61 942.43 L1003 942.29 L1007.4 942.07 L1011.79 941.78 L1016.19 941.4 L1020.59 940.95 L1024.98 940.41 L1029.38 939.8 L1033.77 939.11 L1038.16 938.34 L1042.56 937.51 L1046.95 936.62 L1051.35 935.66 L1055.75 934.64 L1060.14 933.58 L1064.54 932.47 L1068.93 931.31 L1073.33 930.12 L1077.72 928.89 L1082.12 927.63 L1086.51 926.34 L1090.9 925.02 L1095.3 923.68 L1099.69 922.31 L1104.09 920.93 L1104.09 982.69 L1099.69 982.14 L1095.3 981.61 L1090.9 981.1 L1086.51 980.61 L1082.12 980.15 L1077.72 979.72 L1073.33 979.32 L1068.93 978.96 L1064.54 978.63 L1060.14 978.35 L1055.75 978.12 L1051.35 977.93 L1046.95 977.81 L1042.56 977.74 L1038.16 977.74 L1033.77 977.81 L1029.38 977.95 L1024.98 978.16 L1020.59 978.46 L1016.19 978.83 L1011.79 979.29 L1007.4 979.83 L1003 980.44 L998.61 981.13 L994.22 981.89 L989.82 982.72 L985.42 983.62 L981.03 984.58 L976.63 985.59 L972.24 986.66 L967.85 987.77 L963.45 988.92 L959.06 990.12 L954.66 991.35 L950.26 992.61 L945.87 993.9 L941.48 995.22 L937.08 996.56 L932.68 997.92 L928.29 999.31Z" fill="#00BFC4" fill-opacity="0.2"/>
<line x1="928.29" y1="968.42" x2="1104.09" y2="951.81" stroke="#00BFC4" stroke-width="5.0"/>
</g>
<rect x="919.5" y="720.85" width="193.4" height="320.9" fill="none" stroke="#262626" stroke-width="1.8"/>
<g clip-path="url(#c25)">
<line x1="1129.05" x2="1322.45" y1="1004.92" y2="1004.92" stroke="#ECECEC" stroke-width="1.3"/>
<line x1="1129.05" x2="1322.45" y1="911.34" y2="911.34" stroke="#ECECEC" stroke-width="1.3"/>
<line x1="1129.05" x2="1322.45" y1="817.76" y2="817.76" stroke="#ECECEC" stroke-width="1.3"/>
<line x1="1129.05" x2="1322.45" y1="724.18" y2="724.18" stroke="#ECECEC" stroke-width="1.3"/>
<line x1="1181.79" x2="1181.79" y1="720.85" y2="1041.75" stroke="#ECECEC" stroke-width="1.3"/>
<line x1="1269.69" x2="1269.69" y1="720.85" y2="1041.75" stroke="#ECECEC" stroke-width="1.3"/>
<line x1="1129.05" x2="1322.45" y1="958.13" y2="958.13" stroke="#E8E8E8" stroke-width="2.2"/>
<line x1="1129.05" x2="1322.45" y1="864.55" y2="864.55" stroke="#E8E8E8" stroke-width="2.2"/>
<line x1="1129.05" x2="1322.45" y1="770.97" y2="770.97" stroke="#E8E8E8" stroke-width="2.2"/>
<line x1="1137.84" x2="1137.84" y1="720.85" y2="1041.75" stroke="#E8E8E8" stroke-width="2.2"/>
<line x1="1225.74" x2="1225.74" y1="720.85" y2="1041.75" stroke="#E8E8E8" stroke-width="2.2"/>
<line x1="1313.64" x2="1313.64" y1="720.85" y2="1041.75" stroke="#E8E8E8" stroke-width="2.2"/>
<path d="M1137.84 883.73 L1142.23 883.25 L1146.63 882.77 L1151.02 882.27 L1155.42 881.77 L1159.82 881.26 L1164.21 880.75 L1168.61 880.22 L1173 879.68 L1177.39 879.13 L1181.79 878.57 L1186.18 877.99 L1190.58 877.4 L1194.97 876.79 L1199.37 876.16 L1203.76 875.51 L1208.16 874.84 L1212.56 874.15 L1216.95 873.43 L1221.35 872.69 L1225.74 871.92 L1230.13 871.12 L1234.53 870.3 L1238.92 869.46 L1243.32 868.58 L1247.71 867.68 L1252.11 866.76 L1256.5 865.82 L1260.9 864.85 L1265.3 863.87 L1269.69 862.87 L1274.09 861.85 L1278.48 860.82 L1282.88 859.77 L1287.27 858.71 L1291.66 857.64 L1296.06 856.56 L1300.45 855.47 L1304.85 854.37 L1309.24 853.26 L1313.64 852.15 L1313.64 871.8 L1309.24 872.29 L1304.85 872.79 L1300.45 873.29 L1296.06 873.8 L1291.66 874.33 L1287.27 874.86 L1282.88 875.4 L1278.48 875.96 L1274.09 876.53 L1269.69 877.11 L1265.3 877.71 L1260.9 878.33 L1256.5 878.97 L1252.11 879.63 L1247.71 880.31 L1243.32 881.01 L1238.92 881.74 L1234.53 882.5 L1230.13 883.28 L1225.74 884.08 L1221.35 884.92 L1216.95 885.78 L1212.56 886.66 L1208.16 887.57 L1203.76 888.5 L1199.37 889.46 L1194.97 890.43 L1190.58 891.42 L1186.18 892.43 L1181.79 893.46 L1177.39 894.5 L1173 895.55 L1168.61 896.62 L1164.21 897.69 L1159.82 898.78 L1155.42 899.87 L1151.02 900.97 L1146.63 902.08 L1142.23 903.2 L1137.84 904.32Z" fill="#F8766D" fill-opacity="0.2"/>
<line x1="1137.84" y1="894.03" x2="1313.64" y2="861.98" stroke="#F8766D" stroke-width="5.0"/>
<path d="M1137.84 910.17 L1142.23 909.21 L1146.63 908.26 L1151.02 907.3 L1155.42 906.34 L1159.82 905.38 L1164.21 904.42 L1168.61 903.45 L1173 902.49 L1177.39 901.52 L1181.79 900.54 L1186.18 899.57 L1190.58 898.59 L1194.97 897.61 L1199.37 896.63 L1203.76 895.64 L1208.16 894.65 L1212.56 893.65 L1216.95 892.65 L1221.35 891.64 L1225.74 890.64 L1230.13 889.62 L1234.53 888.6 L1238.92 887.58 L1243.32 886.55 L1247.71 885.52 L1252.11 884.49 L1256.5 883.45 L1260.9 882.4 L1265.3 881.36 L1269.69 880.31 L1274.09 879.26 L1278.48 878.2 L1282.88 877.14 L1287.27 876.09 L1291.66 875.02 L1296.06 873.96 L1300.45 872.9 L1304.85 871.83 L1309.24 870.77 L1313.64 869.7 L1313.64 873.44 L1309.24 874.4 L1304.85 875.35 L1300.45 876.31 L1296.06 877.27 L1291.66 878.23 L1287.27 879.19 L1282.88 880.16 L1278.48 881.12 L1274.09 882.09 L1269.69 883.07 L1265.3 884.04 L1260.9 885.02 L1256.5 886 L1252.11 886.98 L1247.71 887.97 L1243.32 888.96 L1238.92 889.96 L1234.53 890.96 L1230.13 891.97 L1225.74 892.97 L1221.35 893.99 L1216.95 895.01 L1212.56 896.03 L1208.16 897.06 L1203.76 898.09 L1199.37 899.13 L1194.97 900.16 L1190.58 901.21 L1186.18 902.25 L1181.79 903.3 L1177.39 904.35 L1173 905.41 L1168.61 906.47 L1164.21 907.52 L1159.82 908.59 L1155.42 909.65 L1151.02 910.71 L1146.63 911.78 L1142.23 912.85 L1137.84 913.91Z" fill="#00BFC4" fill-opacity="0.2"/>
<line x1="1137.84" y1="912.04" x2="1313.64" y2="871.57" stroke="#00BFC4" stroke-width="5.0"/>
</g>
<rect x="1129.05" y="720.85" width="193.4" height="320.9" fill="none" stroke="#262626" stroke-width="1.8"/>
<g clip-path="url(#c26)">
<line x1="1338.6" x2="1532" y1="1004.92" y2="1004.92" stroke="#ECECEC" stroke-width="1.3"/>
<line x1="1338.6" x2="1532" y1="911.34" y2="911.34" stroke="#ECECEC" stroke-width="1.3"/>
<line x1="1338.6" x2="1532" y1="817.76" y2="817.76" stroke="#ECECEC" stroke-width="1.3"/>
<line x1="1338.6" x2="1532" y1="724.18" y2="724.18" stroke="#ECECEC" stroke-width="1.3"/>
<line x1="1391.34" x2="1391.34" y1="720.85" y2="1041.75" stroke="#ECECEC" stroke-width="1.3"/>
<line x1="1479.24" x2="1479.24" y1="720.85" y2="1041.75" stroke="#ECECEC" stroke-width="1.3"/>
<line x1="1338.6" x2="1532" y1="958.13" y2="958.13" stroke="#E8E8E8" stroke-width="2.2"/>
<line x1="1338.6" x2="1532" y1="864.55" y2="864.55" stroke="#E8E8E8" stroke-width="2.2"/>
<line x1="1338.6" x2="1532" y1="770.97" y2="770.97" stroke="#E8E8E8" stroke-width="2.2"/>
<line x1="1347.39" x2="1347.39" y1="720.85" y2="1041.75" stroke="#E8E8E8" stroke-width="2.2"/>
<line x1="1435.29" x2="1435.29" y1="720.85" y2="1041.75" stroke="#E8E8E8" stroke-width="2.2"/>
<line x1="1523.19" x2="1523.19" y1="720.85" y2="1041.75" stroke="#E8E8E8" stroke-width="2.2"/>
<path d="M1347.39 860.81 L1351.79 861.38 L1356.18 861.94 L1360.58 862.48 L1364.97 862.98 L1369.37 863.46 L1373.76 863.91 L1378.16 864.33 L1382.55 864.7 L1386.95 865.03 L1391.34 865.3 L1395.74 865.52 L1400.13 865.68 L1404.53 865.77 L1408.92 865.78 L1413.32 865.71 L1417.71 865.54 L1422.11 865.28 L1426.5 864.91 L1430.9 864.43 L1435.29 863.85 L1439.69 863.15 L1444.08 862.34 L1448.48 861.43 L1452.87 860.42 L1457.27 859.31 L1461.66 858.11 L1466.06 856.83 L1470.45 855.47 L1474.85 854.05 L1479.24 852.56 L1483.64 851.03 L1488.03 849.44 L1492.43 847.81 L1496.82 846.15 L1501.22 844.44 L1505.61 842.71 L1510.01 840.95 L1514.4 839.17 L1518.8 837.36 L1523.19 835.54 L1523.19 904.79 L1518.8 904.2 L1514.4 903.64 L1510.01 903.1 L1505.61 902.58 L1501.22 902.09 L1496.82 901.62 L1492.43 901.2 L1488.03 900.81 L1483.64 900.46 L1479.24 900.16 L1474.85 899.92 L1470.45 899.74 L1466.06 899.62 L1461.66 899.58 L1457.27 899.62 L1452.87 899.75 L1448.48 899.98 L1444.08 900.3 L1439.69 900.74 L1435.29 901.28 L1430.9 901.93 L1426.5 902.7 L1422.11 903.57 L1417.71 904.55 L1413.32 905.62 L1408.92 906.79 L1404.53 908.04 L1400.13 909.37 L1395.74 910.76 L1391.34 912.22 L1386.95 913.74 L1382.55 915.31 L1378.16 916.92 L1373.76 918.57 L1369.37 920.26 L1364.97 921.98 L1360.58 923.73 L1356.18 925.51 L1351.79 927.3 L1347.39 929.12Z" fill="#F8766D" fill-opacity="0.2"/>
<line x1="1347.39" y1="894.96" x2="1523.19" y2="870.16" stroke="#F8766D" stroke-width="5.0"/>
<path d="M1347.39 882.33 L1351.79 881.99 L1356.18 881.63 L1360.58 881.26 L1364.97 880.88 L1369.37 880.47 L1373.76 880.05 L1378.16 879.6 L1382.55 879.13 L1386.95 878.63 L1391.34 878.1 L1395.74 877.54 L1400.13 876.94 L1404.53 876.29 L1408.92 875.6 L1413.32 874.86 L1417.71 874.07 L1422.11 873.22 L1426.5 872.31 L1430.9 871.34 L1435.29 870.31 L1439.69 869.21 L1444.08 868.05 L1448.48 866.83 L1452.87 865.55 L1457.27 864.21 L1461.66 862.83 L1466.06 861.39 L1470.45 859.92 L1474.85 858.4 L1479.24 856.85 L1483.64 855.27 L1488.03 853.66 L1492.43 852.02 L1496.82 850.36 L1501.22 848.68 L1505.61 846.98 L1510.01 845.26 L1514.4 843.53 L1518.8 841.79 L1523.19 840.03 L1523.19 882.14 L1518.8 882.48 L1514.4 882.83 L1510.01 883.19 L1505.61 883.56 L1501.22 883.95 L1496.82 884.36 L1492.43 884.8 L1488.03 885.25 L1483.64 885.73 L1479.24 886.24 L1474.85 886.78 L1470.45 887.36 L1466.06 887.97 L1461.66 888.63 L1457.27 889.34 L1452.87 890.09 L1448.48 890.91 L1444.08 891.78 L1439.69 892.71 L1435.29 893.7 L1430.9 894.76 L1426.5 895.88 L1422.11 897.06 L1417.71 898.3 L1413.32 899.6 L1408.92 900.95 L1404.53 902.35 L1400.13 903.8 L1395.74 905.29 L1391.34 906.82 L1386.95 908.38 L1382.55 909.97 L1378.16 911.59 L1373.76 913.24 L1369.37 914.91 L1364.97 916.59 L1360.58 918.3 L1356.18 920.02 L1351.79 921.76 L1347.39 923.51Z" fill="#00BFC4" fill-opacity="0.2"/>
<line x1="1347.39" y1="902.92" x2="1523.19" y2="861.09" stroke="#00BFC4" stroke-width="5.0"/>
</g>
<rect x="1338.6" y="720.85" width="193.4" height="320.9" fill="none" stroke="#262626" stroke-width="1.8"/>
<path d="M73.7 283.93H81.3 M73.7 190.35H81.3 M73.7 96.77H81.3 M73.7 621.03H81.3 M73.7 527.45H81.3 M73.7 433.87H81.3 M73.7 958.13H81.3 M73.7 864.55H81.3 M73.7 770.97H81.3 M90.09 1041.75V1049.35 M177.99 1041.75V1049.35 M265.89 1041.75V1049.35 M299.64 1041.75V1049.35 M387.54 1041.75V1049.35 M475.44 1041.75V1049.35 M509.19 1041.75V1049.35 M597.09 1041.75V1049.35 M684.99 1041.75V1049.35 M718.74 1041.75V1049.35 M806.64 1041.75V1049.35 M894.54 1041.75V1049.35 M928.29 1041.75V1049.35 M1016.19 1041.75V1049.35 M1104.09 1041.75V1049.35 M1137.84 1041.75V1049.35 M1225.74 1041.75V1049.35 M1313.64 1041.75V1049.35 M1347.39 1041.75V1049.35 M1435.29 1041.75V1049.35 M1523.19 1041.75V1049.35" stroke="#161616" stroke-width="2.0" fill="none"/>
<text x="66.7" y="293.38" font-size="24.7" fill="#3D3D3D" text-anchor="end" font-family="'Liberation Sans', Arial, sans-serif" style="font-kerning:none">-2</text>
<text x="66.7" y="199.8" font-size="24.7" fill="#3D3D3D" text-anchor="end" font-family="'Liberation Sans', Arial, sans-serif" style="font-kerning:none">0</text>
<text x="66.7" y="106.21" font-size="24.7" fill="#3D3D3D" text-anchor="end" font-family="'Liberation Sans', Arial, sans-serif" style="font-kerning:none">2</text>
<text x="66.7" y="630.48" font-size="24.7" fill="#3D3D3D" text-anchor="end" font-family="'Liberation Sans', Arial, sans-serif" style="font-kerning:none">-2</text>
<text x="66.7" y="536.89" font-size="24.7" fill="#3D3D3D" text-anchor="end" font-family="'Liberation Sans', Arial, sans-serif" style="font-kerning:none">0</text>
<text x="66.7" y="443.32" font-size="24.7" fill="#3D3D3D" text-anchor="end" font-family="'Liberation Sans', Arial, sans-serif" style="font-kerning:none">2</text>
<text x="66.7" y="967.58" font-size="24.7" fill="#3D3D3D" text-anchor="end" font-family="'Liberation Sans', Arial, sans-serif" style="font-kerning:none">-2</text>
<text x="66.7" y="874" font-size="24.7" fill="#3D3D3D" text-anchor="end" font-family="'Liberation Sans', Arial, sans-serif" style="font-kerning:none">0</text>
<text x="66.7" y="780.41" font-size="24.7" fill="#3D3D3D" text-anchor="end" font-family="'Liberation Sans', Arial, sans-serif" style="font-kerning:none">2</text>
<text transform="translate(81.56 1075.9) scale(1.25 1)" font-size="24.7" fill="#3D3D3D" font-family="IPAGothic, 'Liberation Sans', sans-serif">1</text>
<text x="177.99" y="1074.6" font-size="24.7" fill="#3D3D3D" text-anchor="middle" font-family="'Liberation Sans', Arial, sans-serif" style="font-kerning:none">2</text>
<text x="265.89" y="1074.6" font-size="24.7" fill="#3D3D3D" text-anchor="middle" font-family="'Liberation Sans', Arial, sans-serif" style="font-kerning:none">3</text>
<text transform="translate(291.11 1075.9) scale(1.25 1)" font-size="24.7" fill="#3D3D3D" font-family="IPAGothic, 'Liberation Sans', sans-serif">1</text>
<text x="387.54" y="1074.6" font-size="24.7" fill="#3D3D3D" text-anchor="middle" font-family="'Liberation Sans', Arial, sans-serif" style="font-kerning:none">2</text>
<text x="475.44" y="1074.6" font-size="24.7" fill="#3D3D3D" text-anchor="middle" font-family="'Liberation Sans', Arial, sans-serif" style="font-kerning:none">3</text>
<text transform="translate(500.66 1075.9) scale(1.25 1)" font-size="24.7" fill="#3D3D3D" font-family="IPAGothic, 'Liberation Sans', sans-serif">1</text>
<text x="597.09" y="1074.6" font-size="24.7" fill="#3D3D3D" text-anchor="middle" font-family="'Liberation Sans', Arial, sans-serif" style="font-kerning:none">2</text>
<text x="684.99" y="1074.6" font-size="24.7" fill="#3D3D3D" text-anchor="middle" font-family="'Liberation Sans', Arial, sans-serif" style="font-kerning:none">3</text>
<text transform="translate(710.21 1075.9) scale(1.25 1)" font-size="24.7" fill="#3D3D3D" font-family="IPAGothic, 'Liberation Sans', sans-serif">1</text>
<text x="806.64" y="1074.6" font-size="24.7" fill="#3D3D3D" text-anchor="middle" font-family="'Liberation Sans', Arial, sans-serif" style="font-kerning:none">2</text>
<text x="894.54" y="1074.6" font-size="24.7" fill="#3D3D3D" text-anchor="middle" font-family="'Liberation Sans', Arial, sans-serif" style="font-kerning:none">3</text>
<text transform="translate(919.76 1075.9) scale(1.25 1)" font-size="24.7" fill="#3D3D3D" font-family="IPAGothic, 'Liberation Sans', sans-serif">1</text>
<text x="1016.19" y="1074.6" font-size="24.7" fill="#3D3D3D" text-anchor="middle" font-family="'Liberation Sans', Arial, sans-serif" style="font-kerning:none">2</text>
<text x="1104.09" y="1074.6" font-size="24.7" fill="#3D3D3D" text-anchor="middle" font-family="'Liberation Sans', Arial, sans-serif" style="font-kerning:none">3</text>
<text transform="translate(1129.31 1075.9) scale(1.25 1)" font-size="24.7" fill="#3D3D3D" font-family="IPAGothic, 'Liberation Sans', sans-serif">1</text>
<text x="1225.74" y="1074.6" font-size="24.7" fill="#3D3D3D" text-anchor="middle" font-family="'Liberation Sans', Arial, sans-serif" style="font-kerning:none">2</text>
<text x="1313.64" y="1074.6" font-size="24.7" fill="#3D3D3D" text-anchor="middle" font-family="'Liberation Sans', Arial, sans-serif" style="font-kerning:none">3</text>
<text transform="translate(1338.86 1075.9) scale(1.25 1)" font-size="24.7" fill="#3D3D3D" font-family="IPAGothic, 'Liberation Sans', sans-serif">1</text>
<text x="1435.29" y="1074.6" font-size="24.7" fill="#3D3D3D" text-anchor="middle" font-family="'Liberation Sans', Arial, sans-serif" style="font-kerning:none">2</text>
<text x="1523.19" y="1074.6" font-size="24.7" fill="#3D3D3D" text-anchor="middle" font-family="'Liberation Sans', Arial, sans-serif" style="font-kerning:none">3</text>
<text transform="translate(178 31.7) scale(1 1.04)" font-size="24.7" fill="#1A1A1A" text-anchor="middle" font-family="'Liberation Sans', Arial, sans-serif" style="font-kerning:none">BAT</text>
<text transform="translate(387.55 31.7) scale(1 1.04)" font-size="24.7" fill="#1A1A1A" text-anchor="middle" font-family="'Liberation Sans', Arial, sans-serif" style="font-kerning:none">EDT</text>
<text transform="translate(597.1 31.7) scale(1 1.04)" font-size="24.7" fill="#1A1A1A" text-anchor="middle" font-family="'Liberation Sans', Arial, sans-serif" style="font-kerning:none">JAJ</text>
<text transform="translate(806.65 31.7) scale(1 1.04)" font-size="24.7" fill="#1A1A1A" text-anchor="middle" font-family="'Liberation Sans', Arial, sans-serif" style="font-kerning:none">MDT</text>
<text transform="translate(1016.2 31.7) scale(1 1.04)" font-size="24.7" fill="#1A1A1A" text-anchor="middle" font-family="'Liberation Sans', Arial, sans-serif" style="font-kerning:none">MIQ</text>
<text transform="translate(1225.75 31.7) scale(1 1.04)" font-size="24.7" fill="#1A1A1A" text-anchor="middle" font-family="'Liberation Sans', Arial, sans-serif" style="font-kerning:none">MPT</text>
<text transform="translate(1435.3 31.7) scale(1 1.04)" font-size="24.7" fill="#1A1A1A" text-anchor="middle" font-family="'Liberation Sans', Arial, sans-serif" style="font-kerning:none">RAT</text>
<text transform="translate(1546.3 207.1) rotate(90)" font-size="24.7" fill="#1A1A1A" text-anchor="middle" font-family="'Liberation Sans', Arial, sans-serif" style="font-kerning:none">Low</text>
<text transform="translate(1546.3 544.2) rotate(90)" font-size="24.7" fill="#1A1A1A" text-anchor="middle" font-family="'Liberation Sans', Arial, sans-serif" style="font-kerning:none">Middle</text>
<text transform="translate(1546.3 881.3) rotate(90)" font-size="24.7" fill="#1A1A1A" text-anchor="middle" font-family="'Liberation Sans', Arial, sans-serif" style="font-kerning:none">High</text>
<text x="806.5" y="1110" font-size="30.9" fill="#000" text-anchor="middle" font-family="'Liberation Sans', Arial, sans-serif" style="font-kerning:none">Class</text>
<text transform="translate(31.8 544.1) rotate(-90)" font-size="30.9" fill="#000" text-anchor="middle" font-family="'Liberation Sans', Arial, sans-serif" style="font-kerning:none">Predicted Ability</text>
<text x="1625.5" y="500.2" font-size="30.9" fill="#000" font-family="'Liberation Sans', Arial, sans-serif" style="font-kerning:none">Gender</text>
<rect x="1626.5" y="517.6" width="47.2" height="47.8" fill="#fff"/>
<rect x="1626.5" y="517.6" width="47.2" height="47.8" fill="#F8766D" fill-opacity="0.2"/>
<line x1="1630.5" x2="1668.7" y1="541.5" y2="541.5" stroke="#F8766D" stroke-width="5.0"/>
<text x="1689.5" y="550.87" font-size="23.9" fill="#000" font-family="'Liberation Sans', Arial, sans-serif" style="font-kerning:none">female</text>
<rect x="1626.5" y="565.4" width="47.2" height="47.8" fill="#fff"/>
<rect x="1626.5" y="565.4" width="47.2" height="47.8" fill="#00BFC4" fill-opacity="0.2"/>
<line x1="1630.5" x2="1668.7" y1="589.3" y2="589.3" stroke="#00BFC4" stroke-width="5.0"/>
<text x="1689.5" y="598.66" font-size="23.9" fill="#000" font-family="'Liberation Sans', Arial, sans-serif" style="font-kerning:none">male</text>
</svg>
</body></html>
